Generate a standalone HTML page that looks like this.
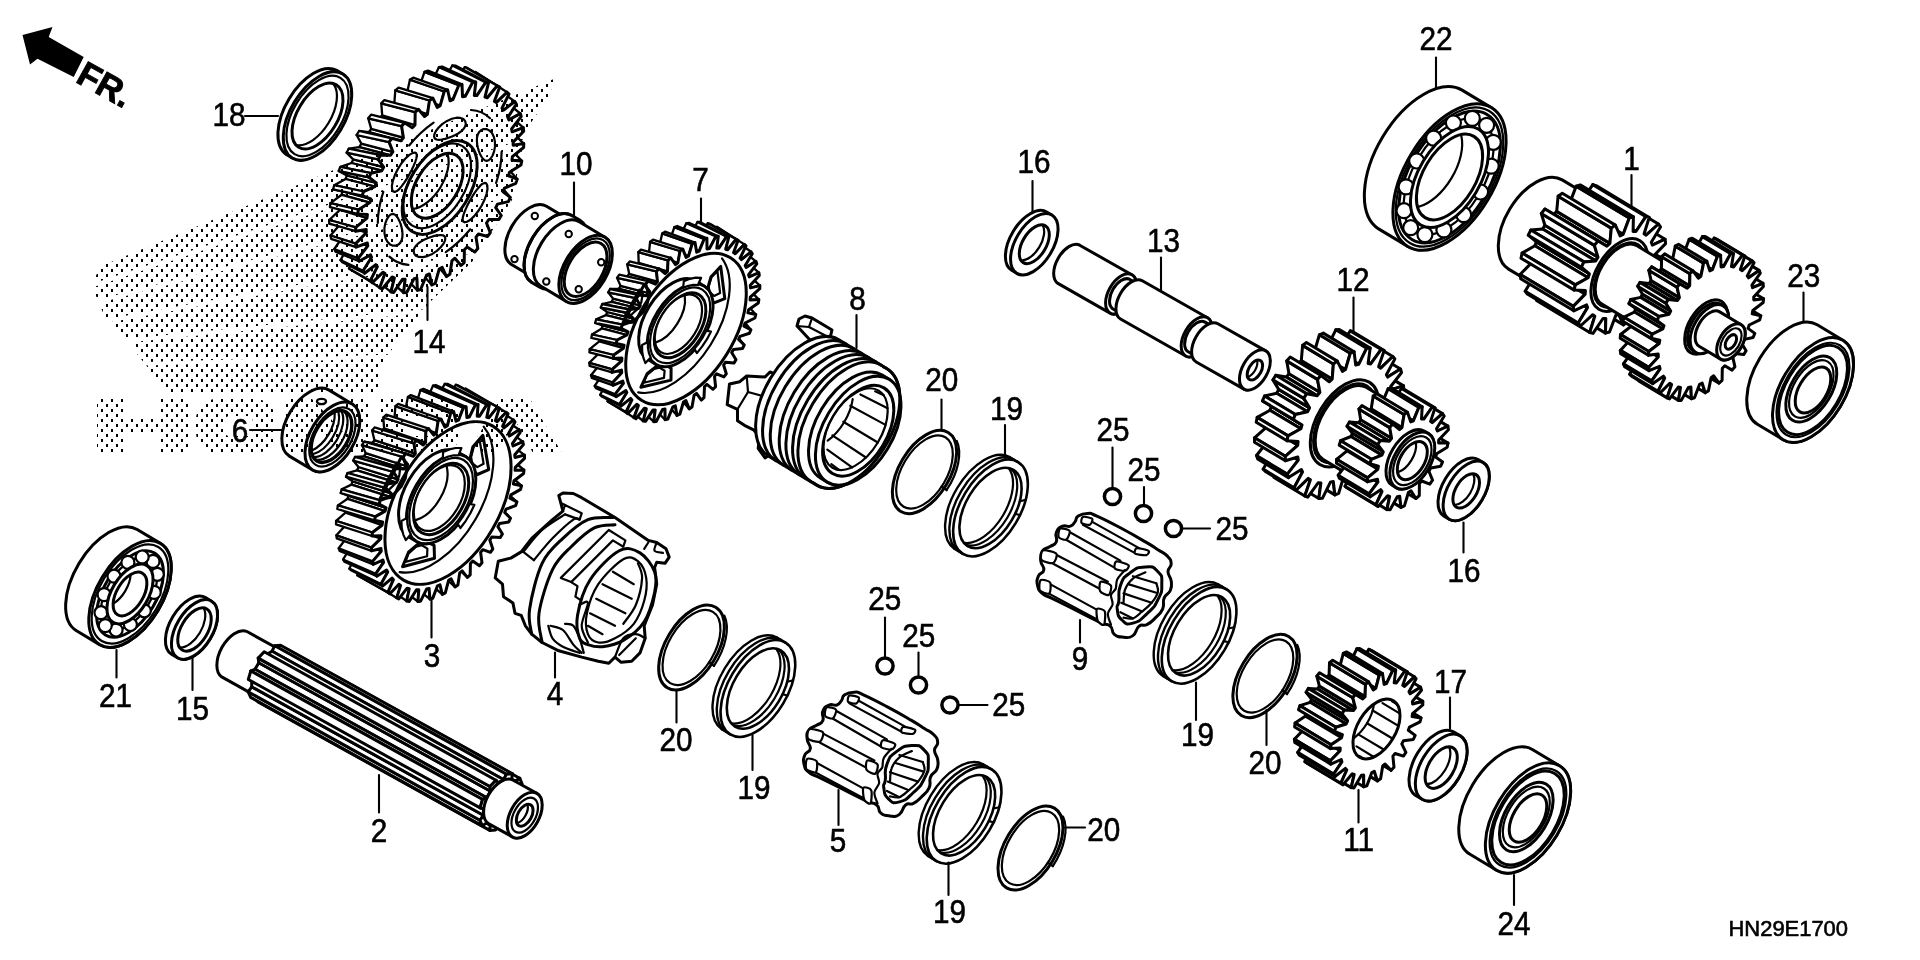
<!DOCTYPE html>
<html><head><meta charset="utf-8"><title>HN29E1700</title>
<style>
html,body{margin:0;padding:0;background:#fff;}
body{width:1920px;height:960px;overflow:hidden;font-family:"Liberation Sans",sans-serif;}
svg{display:block;will-change:transform;opacity:0.9999}
svg path, svg ellipse, svg circle, svg polygon{stroke:#000;stroke-linejoin:round;stroke-linecap:round}
svg text{font-family:"Liberation Sans",sans-serif;fill:#000;stroke:#000;stroke-width:0.6px}
.ns, .ns *{stroke:none!important}
</style></head><body>
<svg width="1920" height="960" viewBox="0 0 1920 960" fill="none">
<defs>
<pattern id="dots" width="10" height="10" patternUnits="userSpaceOnUse" patternTransform="translate(1,-1)">
<rect x="0" y="0" width="2" height="3" fill="#000" shape-rendering="crispEdges"/><rect x="5" y="5" width="2" height="3" fill="#000" shape-rendering="crispEdges"/>
</pattern>
</defs>
<rect class="ns" width="1920" height="960" fill="#fff"/>
<text transform="translate(229,126.2) scale(0.9,1)" font-size="33" text-anchor="middle">18</text>
<text transform="translate(576,175.2) scale(0.9,1)" font-size="33" text-anchor="middle">10</text>
<text transform="translate(429,352.7) scale(0.9,1)" font-size="33" text-anchor="middle">14</text>
<text transform="translate(240,442.2) scale(0.9,1)" font-size="33" text-anchor="middle">6</text>
<text transform="translate(700.5,191.2) scale(0.9,1)" font-size="33" text-anchor="middle">7</text>
<text transform="translate(857.5,310.2) scale(0.9,1)" font-size="33" text-anchor="middle">8</text>
<text transform="translate(1034,172.7) scale(0.9,1)" font-size="33" text-anchor="middle">16</text>
<text transform="translate(1163.5,252.2) scale(0.9,1)" font-size="33" text-anchor="middle">13</text>
<text transform="translate(941.7,391.2) scale(0.9,1)" font-size="33" text-anchor="middle">20</text>
<text transform="translate(1006.5,419.7) scale(0.9,1)" font-size="33" text-anchor="middle">19</text>
<text transform="translate(1113,441.2) scale(0.9,1)" font-size="33" text-anchor="middle">25</text>
<text transform="translate(1144,481.2) scale(0.9,1)" font-size="33" text-anchor="middle">25</text>
<text transform="translate(1436,50.2) scale(0.9,1)" font-size="33" text-anchor="middle">22</text>
<text transform="translate(1631.5,169.7) scale(0.9,1)" font-size="33" text-anchor="middle">1</text>
<text transform="translate(1803.7,286.7) scale(0.9,1)" font-size="33" text-anchor="middle">23</text>
<text transform="translate(1353,291.2) scale(0.9,1)" font-size="33" text-anchor="middle">12</text>
<text transform="translate(115.5,707.2) scale(0.9,1)" font-size="33" text-anchor="middle">21</text>
<text transform="translate(192.5,720.2) scale(0.9,1)" font-size="33" text-anchor="middle">15</text>
<text transform="translate(432,667.2) scale(0.9,1)" font-size="33" text-anchor="middle">3</text>
<text transform="translate(555,704.7) scale(0.9,1)" font-size="33" text-anchor="middle">4</text>
<text transform="translate(379,842.2) scale(0.9,1)" font-size="33" text-anchor="middle">2</text>
<text transform="translate(884.7,609.7) scale(0.9,1)" font-size="33" text-anchor="middle">25</text>
<text transform="translate(918.7,647.2) scale(0.9,1)" font-size="33" text-anchor="middle">25</text>
<text transform="translate(1008.7,716.2) scale(0.9,1)" font-size="33" text-anchor="middle">25</text>
<text transform="translate(1232,539.7) scale(0.9,1)" font-size="33" text-anchor="middle">25</text>
<text transform="translate(676,751.2) scale(0.9,1)" font-size="33" text-anchor="middle">20</text>
<text transform="translate(754,798.7) scale(0.9,1)" font-size="33" text-anchor="middle">19</text>
<text transform="translate(838,852.2) scale(0.9,1)" font-size="33" text-anchor="middle">5</text>
<text transform="translate(949.5,922.7) scale(0.9,1)" font-size="33" text-anchor="middle">19</text>
<text transform="translate(1103.7,841.2) scale(0.9,1)" font-size="33" text-anchor="middle">20</text>
<text transform="translate(1080,670.2) scale(0.9,1)" font-size="33" text-anchor="middle">9</text>
<text transform="translate(1197.5,746.2) scale(0.9,1)" font-size="33" text-anchor="middle">19</text>
<text transform="translate(1265,773.7) scale(0.9,1)" font-size="33" text-anchor="middle">20</text>
<text transform="translate(1464,582.2) scale(0.9,1)" font-size="33" text-anchor="middle">16</text>
<text transform="translate(1450.5,692.7) scale(0.9,1)" font-size="33" text-anchor="middle">17</text>
<text transform="translate(1358.7,851.2) scale(0.9,1)" font-size="33" text-anchor="middle">11</text>
<text transform="translate(1514,934.7) scale(0.9,1)" font-size="33" text-anchor="middle">24</text>
<text transform="translate(1728.5,935.8) scale(0.975,1)" font-size="22.5" text-anchor="start">HN29E1700</text>
<path d="M245 116H278" stroke-width="2.1"/>
<path d="M574 182.5V218" stroke-width="2.1"/>
<path d="M427.5 287V320" stroke-width="2.1"/>
<path d="M250 430H283" stroke-width="2.1"/>
<path d="M701 198.5V223" stroke-width="2.1"/>
<path d="M856.5 315V348" stroke-width="2.1"/>
<path d="M1032.5 181V213" stroke-width="2.1"/>
<path d="M1161 257.5V293" stroke-width="2.1"/>
<path d="M941.5 399.5V430" stroke-width="2.1"/>
<path d="M1005 425V458" stroke-width="2.1"/>
<path d="M1112.5 447.5V489" stroke-width="2.1"/>
<path d="M1144 487V506" stroke-width="2.1"/>
<path d="M1181 528.5H1210" stroke-width="2.1"/>
<path d="M1436 57.5V88" stroke-width="2.1"/>
<path d="M1631.5 175V208" stroke-width="2.1"/>
<path d="M1803.5 292.5V325" stroke-width="2.1"/>
<path d="M1353.5 297.5V333" stroke-width="2.1"/>
<path d="M116.5 650V677.5" stroke-width="2.1"/>
<path d="M192.5 655V690" stroke-width="2.1"/>
<path d="M431.5 600V637.5" stroke-width="2.1"/>
<path d="M555 652.5V677.5" stroke-width="2.1"/>
<path d="M379 775V812.5" stroke-width="2.1"/>
<path d="M676.5 690V722.5" stroke-width="2.1"/>
<path d="M752.5 735V770" stroke-width="2.1"/>
<path d="M838.5 790V825" stroke-width="2.1"/>
<path d="M948.5 862.5V895" stroke-width="2.1"/>
<path d="M1065 827.5H1085" stroke-width="2.1"/>
<path d="M1080 620V642.5" stroke-width="2.1"/>
<path d="M1196 682.5V720" stroke-width="2.1"/>
<path d="M1266.5 710V745" stroke-width="2.1"/>
<path d="M885 617.5V658" stroke-width="2.1"/>
<path d="M918.5 652.5V677" stroke-width="2.1"/>
<path d="M958 705H987.5" stroke-width="2.1"/>
<path d="M1463.5 522.5V552.5" stroke-width="2.1"/>
<path d="M1450 697.5V728.5" stroke-width="2.1"/>
<path d="M1358.5 790V822.5" stroke-width="2.1"/>
<path d="M1514 875V905" stroke-width="2.1"/>
<circle cx="1112.5" cy="496.5" r="8.1" fill="#fff" stroke-width="3.5"/>
<circle cx="1143.5" cy="513.5" r="8.1" fill="#fff" stroke-width="3.5"/>
<circle cx="1173.5" cy="528.5" r="8.1" fill="#fff" stroke-width="3.5"/>
<circle cx="885" cy="666" r="8.1" fill="#fff" stroke-width="3.5"/>
<circle cx="918.5" cy="685" r="8.1" fill="#fff" stroke-width="3.5"/>
<circle cx="950" cy="705" r="8.1" fill="#fff" stroke-width="3.5"/>
<polygon class="ns" points="22.5,35 52.5,27 48.7,37 83.7,57 73.7,77 37.5,58.7 30,64.5" fill="#000"/>
<text transform="translate(74.5,81.5) rotate(29)" font-size="35" font-weight="bold" style="stroke:#000;stroke-width:0.9px">FR.</text>
<path d="M336.7,70.4A27 49 31 0 0 286.3,154.4L292.3,158A27 49 31 0 0 342.7,74Z" fill="#fff" stroke-width="3"/>
<ellipse cx="317.5" cy="116" rx="27" ry="49" transform="rotate(31 317.5 116)" fill="#fff" stroke-width="3"/>
<ellipse cx="317.5" cy="116" rx="24.5" ry="44.5" transform="rotate(31 317.5 116)" fill="#fff" stroke-width="2.2"/>
<ellipse cx="317.5" cy="116" rx="20.1" ry="36.5" transform="rotate(31 317.5 116)" fill="#fff" stroke-width="3"/>
<path d="M333.5,84A20.1 36.5 31 0 1 296.7,145.1" fill="none" stroke-width="2.2"/>
<path d="M1046.7,212A18.7 34 31 0 0 1011.6,270.3L1016.8,273.3A18.7 34 31 0 0 1051.8,215.1Z" fill="#fff" stroke-width="3"/>
<ellipse cx="1034.3" cy="244.2" rx="18.7" ry="34" transform="rotate(31 1034.3 244.2)" fill="#fff" stroke-width="3"/>
<ellipse cx="1034.3" cy="244.2" rx="11.8" ry="21.5" transform="rotate(31 1034.3 244.2)" fill="#fff" stroke-width="3"/>
<path d="M1042.7,225.2A11.8 21.5 31 0 1 1021.5,260.5" fill="none" stroke-width="2.2"/>
<path d="M1478.1,459.5A18.2 33 31 0 0 1444.1,516.1L1449.2,519.2A18.2 33 31 0 0 1483.2,462.6Z" fill="#fff" stroke-width="3"/>
<ellipse cx="1466.2" cy="490.9" rx="18.2" ry="33" transform="rotate(31 1466.2 490.9)" fill="#fff" stroke-width="3"/>
<ellipse cx="1466.2" cy="490.9" rx="10.5" ry="19" transform="rotate(31 1466.2 490.9)" fill="#fff" stroke-width="3"/>
<path d="M1473.2,474.1A10.5 19 31 0 1 1454.7,505" fill="none" stroke-width="2.2"/>
<path d="M1453.4,731.8A20.4 37 31 0 0 1415.3,795.2L1422.1,799.3A20.4 37 31 0 0 1460.3,735.9Z" fill="#fff" stroke-width="3"/>
<ellipse cx="1441.2" cy="767.6" rx="20.4" ry="37" transform="rotate(31 1441.2 767.6)" fill="#fff" stroke-width="3"/>
<ellipse cx="1441.2" cy="767.6" rx="12.7" ry="23" transform="rotate(31 1441.2 767.6)" fill="#fff" stroke-width="3"/>
<path d="M1449.2,747.3A12.7 23 31 0 1 1427,784.2" fill="none" stroke-width="2.2"/>
<path d="M205.5,597.6A18.2 33 31 0 0 171.5,654.2L177.5,657.8A18.2 33 31 0 0 211.5,601.2Z" fill="#fff" stroke-width="3"/>
<ellipse cx="194.5" cy="629.5" rx="18.2" ry="33" transform="rotate(31 194.5 629.5)" fill="#fff" stroke-width="3"/>
<ellipse cx="194.5" cy="629.5" rx="13.2" ry="24" transform="rotate(31 194.5 629.5)" fill="#fff" stroke-width="3"/>
<path d="M203.7,608.3A13.2 24 31 0 1 180.1,647.6" fill="none" stroke-width="2.2"/>
<path d="M137.2,529.5A32.5 59 31 0 0 76.5,630.7L99.6,644.6A32.5 59 31 0 0 160.4,543.4Z" fill="#fff" stroke-width="3"/>
<ellipse cx="130" cy="594" rx="32.5" ry="59" transform="rotate(31 130 594)" fill="#fff" stroke-width="3"/>
<ellipse cx="130" cy="594" rx="30.2" ry="54.9" transform="rotate(31 130 594)" fill="#fff" stroke-width="2.2"/>
<ellipse cx="130" cy="594" rx="26.3" ry="47.8" transform="rotate(31 130 594)" fill="#fff" stroke-width="3"/>
<ellipse cx="129.1" cy="593.5" rx="22.2" ry="40.4" transform="rotate(31 129.1 593.5)" fill="#fff" stroke-width="2.2"/>
<circle cx="153" cy="561.4" r="6.5" fill="#fff" stroke-width="2.2"/>
<circle cx="157.3" cy="574.3" r="6.5" fill="#fff" stroke-width="2.2"/>
<circle cx="154.2" cy="592.4" r="6.5" fill="#fff" stroke-width="2.2"/>
<circle cx="144.3" cy="610.8" r="6.5" fill="#fff" stroke-width="2.2"/>
<circle cx="130.4" cy="624.5" r="6.5" fill="#fff" stroke-width="2.2"/>
<circle cx="116.1" cy="630" r="6.5" fill="#fff" stroke-width="2.2"/>
<circle cx="105.3" cy="625.6" r="6.5" fill="#fff" stroke-width="2.2"/>
<circle cx="101" cy="612.7" r="6.5" fill="#fff" stroke-width="2.2"/>
<circle cx="104.1" cy="594.6" r="6.5" fill="#fff" stroke-width="2.2"/>
<circle cx="114" cy="576.2" r="6.5" fill="#fff" stroke-width="2.2"/>
<circle cx="127.9" cy="562.4" r="6.5" fill="#fff" stroke-width="2.2"/>
<circle cx="142.2" cy="557" r="6.5" fill="#fff" stroke-width="2.2"/>
<ellipse cx="130" cy="594" rx="18.2" ry="33" transform="rotate(31 130 594)" fill="#fff" stroke-width="3"/>
<ellipse cx="130" cy="594" rx="13.3" ry="24.2" transform="rotate(31 130 594)" fill="#fff" stroke-width="3"/>
<path d="M130.6,575.2A13.3 24.2 31 0 1 113.7,603.4" fill="none" stroke-width="2.2"/>
<path d="M1462.1,90.1A44.6 81 31 0 0 1378.6,228.9L1407.8,246.4A44.6 81 31 0 0 1491.2,107.6Z" fill="#fff" stroke-width="3"/>
<ellipse cx="1449.5" cy="177" rx="44.6" ry="81" transform="rotate(31 1449.5 177)" fill="#fff" stroke-width="3"/>
<ellipse cx="1449.5" cy="177" rx="42.3" ry="77" transform="rotate(31 1449.5 177)" fill="#fff" stroke-width="2.2"/>
<ellipse cx="1449.5" cy="177" rx="40.1" ry="72.9" transform="rotate(31 1449.5 177)" fill="#fff" stroke-width="3"/>
<ellipse cx="1448.6" cy="176.5" rx="35.4" ry="64.4" transform="rotate(31 1448.6 176.5)" fill="#fff" stroke-width="2.2"/>
<circle cx="1486.6" cy="125.3" r="7.5" fill="#fff" stroke-width="2.2"/>
<circle cx="1493.3" cy="142.3" r="7.5" fill="#fff" stroke-width="2.2"/>
<circle cx="1491.2" cy="166.1" r="7.5" fill="#fff" stroke-width="2.2"/>
<circle cx="1480.6" cy="192" r="7.5" fill="#fff" stroke-width="2.2"/>
<circle cx="1463.7" cy="214.7" r="7.5" fill="#fff" stroke-width="2.2"/>
<circle cx="1443.9" cy="229.9" r="7.5" fill="#fff" stroke-width="2.2"/>
<circle cx="1424.9" cy="234.6" r="7.5" fill="#fff" stroke-width="2.2"/>
<circle cx="1410.7" cy="227.7" r="7.5" fill="#fff" stroke-width="2.2"/>
<circle cx="1404" cy="210.7" r="7.5" fill="#fff" stroke-width="2.2"/>
<circle cx="1406.1" cy="186.9" r="7.5" fill="#fff" stroke-width="2.2"/>
<circle cx="1416.7" cy="161" r="7.5" fill="#fff" stroke-width="2.2"/>
<circle cx="1433.6" cy="138.2" r="7.5" fill="#fff" stroke-width="2.2"/>
<circle cx="1453.4" cy="123" r="7.5" fill="#fff" stroke-width="2.2"/>
<circle cx="1472.3" cy="118.4" r="7.5" fill="#fff" stroke-width="2.2"/>
<ellipse cx="1449.5" cy="177" rx="30.7" ry="55.9" transform="rotate(31 1449.5 177)" fill="#fff" stroke-width="3"/>
<ellipse cx="1449.5" cy="177" rx="26.1" ry="47.4" transform="rotate(31 1449.5 177)" fill="#fff" stroke-width="3"/>
<path d="M1461.3,135.8A26.1 47.4 31 0 1 1418.7,206.8" fill="none" stroke-width="2.2"/>
<path d="M1532.8,749.7A33.6 61 31 0 0 1470,854.3L1496.6,870.3A33.6 61 31 0 0 1559.4,765.7Z" fill="#fff" stroke-width="3"/>
<ellipse cx="1528" cy="818" rx="33.6" ry="61" transform="rotate(31 1528 818)" fill="#fff" stroke-width="3"/>
<ellipse cx="1528" cy="818" rx="30.2" ry="54.9" transform="rotate(31 1528 818)" fill="#fff" stroke-width="2.2"/>
<ellipse cx="1528" cy="818" rx="28.5" ry="51.9" transform="rotate(31 1528 818)" fill="#fff" stroke-width="3"/>
<ellipse cx="1526.3" cy="817" rx="21.1" ry="38.4" transform="rotate(31 1526.3 817)" fill="#fff" stroke-width="3"/>
<ellipse cx="1526.3" cy="817" rx="18.5" ry="33.6" transform="rotate(31 1526.3 817)" fill="#fff" stroke-width="2.2"/>
<ellipse cx="1528" cy="818" rx="14.8" ry="26.8" transform="rotate(31 1528 818)" fill="#fff" stroke-width="3"/>
<path d="M1817.2,324.8A31.9 58 31 0 0 1757.4,424.3L1783.1,439.7A31.9 58 31 0 0 1842.9,340.3Z" fill="#fff" stroke-width="3"/>
<ellipse cx="1813" cy="390" rx="31.9" ry="58" transform="rotate(31 1813 390)" fill="#fff" stroke-width="3"/>
<ellipse cx="1813" cy="390" rx="28.7" ry="52.2" transform="rotate(31 1813 390)" fill="#fff" stroke-width="2.2"/>
<ellipse cx="1813" cy="390" rx="27.1" ry="49.3" transform="rotate(31 1813 390)" fill="#fff" stroke-width="3"/>
<ellipse cx="1811.3" cy="389" rx="20.1" ry="36.5" transform="rotate(31 1811.3 389)" fill="#fff" stroke-width="3"/>
<ellipse cx="1811.3" cy="389" rx="17.5" ry="31.9" transform="rotate(31 1811.3 389)" fill="#fff" stroke-width="2.2"/>
<ellipse cx="1813" cy="390" rx="14" ry="25.5" transform="rotate(31 1813 390)" fill="#fff" stroke-width="3"/>
<ellipse cx="924.5" cy="472" rx="25.3" ry="46" transform="rotate(31 924.5 472)" fill="none" stroke-width="3"/>
<ellipse cx="924.5" cy="472" rx="22.3" ry="40.5" transform="rotate(31 924.5 472)" fill="none" stroke-width="2.2"/>
<path d="M956.8,441A25.3 46 31 0 1 946.6,490" fill="none" stroke-width="2.2"/>
<path d="M946.6,490 941.7,486.5" stroke-width="2.2"/>
<ellipse cx="691.5" cy="647.5" rx="25.9" ry="47" transform="rotate(31 691.5 647.5)" fill="none" stroke-width="3"/>
<ellipse cx="691.5" cy="647.5" rx="22.8" ry="41.5" transform="rotate(31 691.5 647.5)" fill="none" stroke-width="2.2"/>
<path d="M724.4,615.7A25.9 47 31 0 1 714,665.8" fill="none" stroke-width="2.2"/>
<path d="M714,665.8 709.1,662.3" stroke-width="2.2"/>
<ellipse cx="1030.5" cy="848" rx="25.6" ry="46.5" transform="rotate(31 1030.5 848)" fill="none" stroke-width="3"/>
<ellipse cx="1030.5" cy="848" rx="22.6" ry="41" transform="rotate(31 1030.5 848)" fill="none" stroke-width="2.2"/>
<path d="M1063.1,816.6A25.6 46.5 31 0 1 1052.8,866.1" fill="none" stroke-width="2.2"/>
<path d="M1052.8,866.1 1047.9,862.6" stroke-width="2.2"/>
<ellipse cx="1265" cy="676" rx="25.3" ry="46" transform="rotate(31 1265 676)" fill="none" stroke-width="3"/>
<ellipse cx="1265" cy="676" rx="22.3" ry="40.5" transform="rotate(31 1265 676)" fill="none" stroke-width="2.2"/>
<path d="M1297.3,645A25.3 46 31 0 1 1287.1,694" fill="none" stroke-width="2.2"/>
<path d="M1287.1,694 1282.2,690.5" stroke-width="2.2"/>
<path d="M954.4,548.7A29.4 53.5 31 0 1 1009.5,457" fill="none" stroke-width="2.4"/>
<path d="M958.7,551.3A29.4 53.5 31 0 1 1013.8,459.6" fill="none" stroke-width="2.4"/>
<path d="M954.4,548.7 962.9,553.9" stroke-width="2.4"/>
<path d="M1009.5,457 1018.1,462.1" stroke-width="2.4"/>
<ellipse cx="990.5" cy="508" rx="29.4" ry="53.5" transform="rotate(31 990.5 508)" fill="none" stroke-width="2.6"/>
<ellipse cx="990.5" cy="508" rx="24.5" ry="44.5" transform="rotate(31 990.5 508)" fill="none" stroke-width="2.6"/>
<path d="M1009.2,468.8A24.5 44.5 31 0 1 964.7,542.9" fill="none" stroke-width="2.2"/>
<path d="M1011.8,469.4A24.5 44.5 31 0 1 966.4,544.9" fill="none" stroke-width="2.2"/>
<path d="M1025.7,499.9 1019.8,501.2" stroke-width="2.2"/>
<path d="M1020.1,515 1015.1,513.8" stroke-width="2.2"/>
<path d="M721.8,729.2A29.4 53.5 31 0 1 776.9,637.5" fill="none" stroke-width="2.4"/>
<path d="M726.1,731.8A29.4 53.5 31 0 1 781.2,640.1" fill="none" stroke-width="2.4"/>
<path d="M721.8,729.2 730.3,734.4" stroke-width="2.4"/>
<path d="M776.9,637.5 785.5,642.6" stroke-width="2.4"/>
<ellipse cx="757.9" cy="688.5" rx="29.4" ry="53.5" transform="rotate(31 757.9 688.5)" fill="none" stroke-width="2.6"/>
<ellipse cx="757.9" cy="688.5" rx="24.5" ry="44.5" transform="rotate(31 757.9 688.5)" fill="none" stroke-width="2.6"/>
<path d="M776.6,649.3A24.5 44.5 31 0 1 732.1,723.4" fill="none" stroke-width="2.2"/>
<path d="M779.2,649.9A24.5 44.5 31 0 1 733.8,725.4" fill="none" stroke-width="2.2"/>
<path d="M793.1,680.4 787.2,681.7" stroke-width="2.2"/>
<path d="M787.5,695.5 782.5,694.3" stroke-width="2.2"/>
<path d="M928,856A29.4 53.5 31 0 1 983.1,764.3" fill="none" stroke-width="2.4"/>
<path d="M932.3,858.6A29.4 53.5 31 0 1 987.4,766.9" fill="none" stroke-width="2.4"/>
<path d="M928,856 936.5,861.2" stroke-width="2.4"/>
<path d="M983.1,764.3 991.7,769.4" stroke-width="2.4"/>
<ellipse cx="964.1" cy="815.3" rx="29.4" ry="53.5" transform="rotate(31 964.1 815.3)" fill="none" stroke-width="2.6"/>
<ellipse cx="964.1" cy="815.3" rx="24.5" ry="44.5" transform="rotate(31 964.1 815.3)" fill="none" stroke-width="2.6"/>
<path d="M982.8,776.1A24.5 44.5 31 0 1 938.3,850.2" fill="none" stroke-width="2.2"/>
<path d="M985.4,776.7A24.5 44.5 31 0 1 940,852.2" fill="none" stroke-width="2.2"/>
<path d="M999.3,807.2 993.4,808.5" stroke-width="2.2"/>
<path d="M993.7,822.3 988.7,821.1" stroke-width="2.2"/>
<path d="M1163,676A29.4 53.5 31 0 1 1218.1,584.3" fill="none" stroke-width="2.4"/>
<path d="M1167.3,678.6A29.4 53.5 31 0 1 1222.4,586.9" fill="none" stroke-width="2.4"/>
<path d="M1163,676 1171.5,681.2" stroke-width="2.4"/>
<path d="M1218.1,584.3 1226.7,589.4" stroke-width="2.4"/>
<ellipse cx="1199.1" cy="635.3" rx="29.4" ry="53.5" transform="rotate(31 1199.1 635.3)" fill="none" stroke-width="2.6"/>
<ellipse cx="1199.1" cy="635.3" rx="24.5" ry="44.5" transform="rotate(31 1199.1 635.3)" fill="none" stroke-width="2.6"/>
<path d="M1217.8,596.1A24.5 44.5 31 0 1 1173.3,670.2" fill="none" stroke-width="2.2"/>
<path d="M1220.4,596.7A24.5 44.5 31 0 1 1175,672.2" fill="none" stroke-width="2.2"/>
<path d="M1234.3,627.2 1228.4,628.5" stroke-width="2.2"/>
<path d="M1228.7,642.3 1223.7,641.1" stroke-width="2.2"/>
<path d="M495.7,207.7 501.2,215.5 480.2,189.2 473.7,182.6Z" fill="#fff" stroke-width="2.3"/>
<path d="M503.1,191.8 510.3,197.4 488.1,170.9 480,166.6Z" fill="#fff" stroke-width="2.3"/>
<path d="M508.6,175.8 517.2,179.1 493.7,152.6 484.4,150.7Z" fill="#fff" stroke-width="2.3"/>
<path d="M446.5,276.6 442.2,267.4 422.9,246.2 428.2,254.4Z" fill="#fff" stroke-width="2.3"/>
<path d="M512,160.2 521.8,160.9 496.9,134.8 486.6,135.4Z" fill="#fff" stroke-width="2.3"/>
<path d="M431.8,285 429.4,274 410.1,254.3 413.6,264.3Z" fill="#fff" stroke-width="2.3"/>
<path d="M513.2,145.3 523.8,143.6 497.6,118.2 486.6,121.3Z" fill="#fff" stroke-width="2.3"/>
<path d="M417.4,290.4 416.9,278 397.4,259.7 399,271.4Z" fill="#fff" stroke-width="2.3"/>
<path d="M512.1,131.8 523.3,127.6 495.7,103.2 484.3,108.6Z" fill="#fff" stroke-width="2.3"/>
<path d="M403.6,292.8 405.1,279.3 385.2,262.5 384.8,275.4Z" fill="#fff" stroke-width="2.3"/>
<path d="M508.9,119.9 520.3,113.5 491.3,90.2 479.9,97.8Z" fill="#fff" stroke-width="2.3"/>
<path d="M390.9,291.9 394.4,277.8 373.9,262.5 371.4,276.3Z" fill="#fff" stroke-width="2.3"/>
<path d="M503.6,110.1 514.8,101.5 484.5,79.6 473.5,89.3Z" fill="#fff" stroke-width="2.3"/>
<path d="M379.7,287.8 385,273.5 363.7,259.8 359.4,274Z" fill="#fff" stroke-width="2.3"/>
<path d="M496.3,102.6 507.1,92.2 475.6,71.9 465.2,83.2Z" fill="#fff" stroke-width="2.3"/>
<path d="M494.4,101.3 496.3,102.6 465.2,83.2 463.1,82.2Z" fill="#fff" stroke-width="2.3"/>
<path d="M372.3,282.6 370.4,280.7 349,268.5 351.2,270.1Z" fill="#fff" stroke-width="2.3"/>
<path d="M497.2,85.8 499.7,87 467.4,67.9 464.8,67.1Z" fill="#fff" stroke-width="2.3"/>
<path d="M370.4,280.7 377.4,266.6 355.1,254.3 349,268.5Z" fill="#fff" stroke-width="2.3"/>
<path d="M487.3,97.8 497.2,85.8 464.8,67.1 455.4,79.8Z" fill="#fff" stroke-width="2.3"/>
<path d="M377.4,266.6 375.8,264.7 353.3,252.7 355.1,254.3Z" fill="#fff" stroke-width="2.3"/>
<path d="M485,97 487.3,97.8 455.4,79.8 453,79.4Z" fill="#fff" stroke-width="2.3"/>
<path d="M364.6,273.3 363.1,270.7 340.5,260.1 342.3,262.3Z" fill="#fff" stroke-width="2.3"/>
<path d="M363.1,270.7 371.6,257.3 348.2,246.3 340.5,260.1Z" fill="#fff" stroke-width="2.3"/>
<path d="M485.7,82.4 488.5,82.9 455.4,65.6 452.4,65.5Z" fill="#fff" stroke-width="2.3"/>
<path d="M371.6,257.3 370.5,254.9 346.9,244.1 348.2,246.3Z" fill="#fff" stroke-width="2.3"/>
<path d="M476.8,95.6 485.7,82.4 452.4,65.5 444.3,79.2Z" fill="#fff" stroke-width="2.3"/>
<path d="M474.3,95.5 476.8,95.6 444.3,79.2 441.6,79.4Z" fill="#fff" stroke-width="2.3"/>
<path d="M359.1,261.3 358.2,258.3 334.3,249 335.5,251.8Z" fill="#fff" stroke-width="2.3"/>
<path d="M358.2,258.3 367.8,245.9 343.3,236 334.3,249Z" fill="#fff" stroke-width="2.3"/>
<path d="M367.8,245.9 367.3,243 342.5,233.3 343.3,236Z" fill="#fff" stroke-width="2.3"/>
<path d="M472.7,82.3 475.8,82 442.1,66.5 438.9,67.2Z" fill="#fff" stroke-width="2.3"/>
<path d="M465.3,96.2 472.7,82.3 438.9,67.2 432.3,81.3Z" fill="#fff" stroke-width="2.3"/>
<path d="M462.5,96.8 465.3,96.2 432.3,81.3 429.4,82.2Z" fill="#fff" stroke-width="2.3"/>
<path d="M366.3,232.7 366.2,229.5 340.2,220.7 340.6,223.7Z" fill="#fff" stroke-width="2.3"/>
<path d="M355.7,243.6 366.3,232.7 340.6,223.7 330.5,235.5Z" fill="#fff" stroke-width="2.3"/>
<path d="M356.1,247.2 355.7,243.6 330.5,235.5 331.1,238.8Z" fill="#fff" stroke-width="2.3"/>
<path d="M450,100.8 452.9,99.6 419.7,86.2 416.7,87.7Z" fill="#fff" stroke-width="2.3"/>
<path d="M452.9,99.6 458.8,85.3 424.5,71.9 419.7,86.2Z" fill="#fff" stroke-width="2.3"/>
<path d="M458.8,85.3 462,84.4 427.9,70.6 424.5,71.9Z" fill="#fff" stroke-width="2.3"/>
<path d="M367,218.1 367.4,214.6 340.2,206.5 340,209.9Z" fill="#fff" stroke-width="2.3"/>
<path d="M437.2,107.4 440.2,105.7 406.9,93.7 403.9,95.7Z" fill="#fff" stroke-width="2.3"/>
<path d="M355.8,227.3 367,218.1 340,209.9 329.2,220Z" fill="#fff" stroke-width="2.3"/>
<path d="M355.6,231.2 355.8,227.3 329.2,220 329.2,223.7Z" fill="#fff" stroke-width="2.3"/>
<path d="M440.2,105.7 444.2,91.5 409.9,79.7 406.9,93.7Z" fill="#fff" stroke-width="2.3"/>
<path d="M444.2,91.5 447.6,89.8 413.2,77.7 409.9,79.7Z" fill="#fff" stroke-width="2.3"/>
<path d="M369.9,202.6 370.8,199 342.4,191.2 341.7,194.8Z" fill="#fff" stroke-width="2.3"/>
<path d="M424.5,116.5 427.4,114.2 394.3,103.5 391.4,106Z" fill="#fff" stroke-width="2.3"/>
<path d="M358.5,209.7 369.9,202.6 341.7,194.8 330.4,203.1Z" fill="#fff" stroke-width="2.3"/>
<path d="M427.4,114.2 429.5,100.5 395.3,90.3 394.3,103.5Z" fill="#fff" stroke-width="2.3"/>
<path d="M357.6,213.9 358.5,209.7 330.4,203.1 329.9,207.1Z" fill="#fff" stroke-width="2.3"/>
<path d="M374.9,186.7 376.3,183 346.8,175.4 345.6,179Z" fill="#fff" stroke-width="2.3"/>
<path d="M412.3,127.8 415,125 382.2,115.3 379.6,118.3Z" fill="#fff" stroke-width="2.3"/>
<path d="M370.8,199 362.2,195.7 333.1,189.3 342.4,191.2Z" fill="#fff" stroke-width="2.3"/>
<path d="M429.5,100.5 432.9,98.2 398.6,87.6 395.3,90.3Z" fill="#fff" stroke-width="2.3"/>
<path d="M381.9,170.7 383.7,167.1 353.2,159.4 351.5,163Z" fill="#fff" stroke-width="2.3"/>
<path d="M363.6,191.5 374.9,186.7 345.6,179 334.2,185.2Z" fill="#fff" stroke-width="2.3"/>
<path d="M400.9,140.8 403.4,137.7 371.2,128.9 368.8,132.2Z" fill="#fff" stroke-width="2.3"/>
<path d="M415,125 415.2,112.2 381.3,103.3 382.2,115.3Z" fill="#fff" stroke-width="2.3"/>
<path d="M390.6,155.3 392.9,151.8 361.4,143.7 359.3,147.2Z" fill="#fff" stroke-width="2.3"/>
<path d="M376.3,183 369.1,177.4 338.7,171 346.8,175.4Z" fill="#fff" stroke-width="2.3"/>
<path d="M362.2,195.7 363.6,191.5 334.2,185.2 333.1,189.3Z" fill="#fff" stroke-width="2.3"/>
<path d="M371,173.2 381.9,170.7 351.5,163 340.4,166.8Z" fill="#fff" stroke-width="2.3"/>
<path d="M415.2,112.2 418.4,109.3 384.4,100.1 381.3,103.3Z" fill="#fff" stroke-width="2.3"/>
<path d="M403.4,137.7 401.6,126.2 368.2,118.3 371.2,128.9Z" fill="#fff" stroke-width="2.3"/>
<path d="M383.7,167.1 378.2,159.3 346.6,152.7 353.2,159.4Z" fill="#fff" stroke-width="2.3"/>
<path d="M391.8,138.3 400.9,140.8 368.8,132.2 359.1,131Z" fill="#fff" stroke-width="2.3"/>
<path d="M380.5,155.2 390.6,155.3 359.3,147.2 348.8,148.6Z" fill="#fff" stroke-width="2.3"/>
<path d="M392.9,151.8 389.1,142.1 356.6,135 361.4,143.7Z" fill="#fff" stroke-width="2.3"/>
<path d="M369.1,177.4 371,173.2 340.4,166.8 338.7,171Z" fill="#fff" stroke-width="2.3"/>
<path d="M401.6,126.2 404.6,122.8 371.1,114.7 368.2,118.3Z" fill="#fff" stroke-width="2.3"/>
<path d="M378.2,159.3 380.5,155.2 348.8,148.6 346.6,152.7Z" fill="#fff" stroke-width="2.3"/>
<path d="M389.1,142.1 391.8,138.3 359.1,131 356.6,135Z" fill="#fff" stroke-width="2.3"/>
<path d="M496.3,102.6 507.1,92.2 509,94.1 502,108.2 503.6,110.1 514.8,101.5 516.3,104.1 507.8,117.5 508.9,119.9 520.3,113.5 521.2,116.5 511.6,128.9 512.1,131.8 523.3,127.6 523.7,131.2 513.1,142.1 513.2,145.3 523.8,143.6 523.6,147.5 512.4,156.7 512,160.2 521.8,160.9 520.9,165.1 509.5,172.2 508.6,175.8 517.2,179.1 515.8,183.3 504.5,188.1 503.1,191.8 510.3,197.4 508.4,201.6 497.5,204.1 495.7,207.7 501.2,215.5 498.9,219.6 488.8,219.5 486.5,223 490.3,232.7 487.6,236.5 478.5,234 476,237.1 477.8,248.6 474.8,252 467.1,247 464.4,249.8 464.2,262.6 461,265.5 454.9,258.3 452,260.6 449.9,274.3 446.5,276.6 442.2,267.4 439.2,269.1 435.2,283.3 431.8,285 429.4,274 426.5,275.2 420.6,289.5 417.4,290.4 416.9,278 414.1,278.6 406.7,292.5 403.6,292.8 405.1,279.3 402.6,279.2 393.7,292.4 390.9,291.9 394.4,277.8 392.1,277 382.2,289 379.7,287.8 385,273.5 383.1,272.2 372.3,282.6 370.4,280.7 377.4,266.6 375.8,264.7 364.6,273.3 363.1,270.7 371.6,257.3 370.5,254.9 359.1,261.3 358.2,258.3 367.8,245.9 367.3,243 356.1,247.2 355.7,243.6 366.3,232.7 366.2,229.5 355.6,231.2 355.8,227.3 367,218.1 367.4,214.6 357.6,213.9 358.5,209.7 369.9,202.6 370.8,199 362.2,195.7 363.6,191.5 374.9,186.7 376.3,183 369.1,177.4 371,173.2 381.9,170.7 383.7,167.1 378.2,159.3 380.5,155.2 390.6,155.3 392.9,151.8 389.1,142.1 391.8,138.3 400.9,140.8 403.4,137.7 401.6,126.2 404.6,122.8 412.3,127.8 415,125 415.2,112.2 418.4,109.3 424.5,116.5 427.4,114.2 429.5,100.5 432.9,98.2 437.2,107.4 440.2,105.7 444.2,91.5 447.6,89.8 450,100.8 452.9,99.6 458.8,85.3 462,84.4 462.5,96.8 465.3,96.2 472.7,82.3 475.8,82 474.3,95.5 476.8,95.6 485.7,82.4 488.5,82.9 485,97 487.3,97.8 497.2,85.8 499.7,87 494.4,101.3Z" fill="#fff" stroke-width="3"/>
<path d="M451.9,118.7 456.5,117.7 460.5,117.9 463.5,119.1 465.2,121.2 465.8,123.7 465.2,126.3 463.7,128.8 461.4,131.1 458.6,133.2 455.4,135 452,136.5 448.5,137.8 445.1,138.9 441.8,139.5 438.9,139.8 436.5,139.5 434.8,138.5 434.1,136.7 434.4,134.2 435.9,131 438.7,127.5 442.5,123.9 447.1,120.9Z" fill="none" stroke-width="2.2"/>
<path d="M493.9,136.9 494.9,141.6 495,146.6 494.1,151.4 492.6,155.5 490.7,158.5 488.7,160.3 486.6,160.9 484.7,160.3 483,158.8 481.4,156.6 480,153.9 478.8,150.9 477.9,147.7 477.2,144.4 476.9,141 477,137.8 477.7,134.8 479,132.2 481,130.2 483.5,129.1 486.4,129.1 489.4,130.4 492,133Z" fill="none" stroke-width="2.2"/>
<path d="M481.7,205.5 478.1,211.3 474.2,216.1 470.4,219.7 467.1,221.7 464.6,222.3 463.2,221.5 462.6,219.5 463,216.6 464.1,213 465.7,209.1 467.7,204.8 470,200.5 472.5,196.2 475.1,192.2 477.7,188.7 480.2,185.7 482.6,183.7 484.6,182.9 486.3,183.4 487.3,185.4 487.5,189 486.6,193.8 484.6,199.5Z" fill="none" stroke-width="2.2"/>
<path d="M427.5,256.1 422.9,257.1 418.9,256.9 415.9,255.7 414.2,253.6 413.6,251.1 414.2,248.5 415.7,246 418,243.7 420.8,241.6 424,239.8 427.4,238.3 430.9,237 434.3,235.9 437.6,235.3 440.5,235 442.9,235.3 444.6,236.3 445.3,238.1 445,240.6 443.5,243.8 440.7,247.3 436.9,250.9 432.3,253.9Z" fill="none" stroke-width="2.2"/>
<path d="M385.5,237.9 384.5,233.2 384.4,228.2 385.3,223.4 386.8,219.3 388.7,216.3 390.7,214.5 392.8,213.9 394.7,214.5 396.4,216 398,218.2 399.4,220.9 400.6,223.9 401.5,227.1 402.2,230.4 402.5,233.8 402.4,237 401.7,240 400.4,242.6 398.4,244.6 395.9,245.7 393,245.7 390,244.4 387.4,241.8Z" fill="none" stroke-width="2.2"/>
<path d="M397.7,169.3 401.3,163.5 405.2,158.7 409,155.1 412.3,153.1 414.8,152.5 416.2,153.3 416.8,155.3 416.4,158.2 415.3,161.8 413.7,165.7 411.7,170 409.4,174.3 406.9,178.6 404.3,182.6 401.7,186.1 399.2,189.1 396.8,191.1 394.8,191.9 393.1,191.4 392.1,189.4 391.9,185.8 392.8,181 394.8,175.3Z" fill="none" stroke-width="2.2"/>
<path d="M471,110A49.4 86 32 0 1 490,118.2" fill="none" stroke-width="2.2"/>
<path d="M501.6,151.9A49.4 86 32 0 1 496.1,183" fill="none" stroke-width="2.2"/>
<path d="M470.3,229.3A49.4 86 32 0 1 445.8,252.2" fill="none" stroke-width="2.2"/>
<path d="M408.4,264.8A49.4 86 32 0 1 389.4,256.6" fill="none" stroke-width="2.2"/>
<path d="M377.8,222.9A49.4 86 32 0 1 383.3,191.8" fill="none" stroke-width="2.2"/>
<path d="M409.1,145.5A49.4 86 32 0 1 433.6,122.6" fill="none" stroke-width="2.2"/>
<ellipse cx="439.7" cy="187.4" rx="29.9" ry="52" transform="rotate(32 439.7 187.4)" fill="none" stroke-width="3"/>
<ellipse cx="437.2" cy="185.8" rx="27" ry="47" transform="rotate(32 437.2 185.8)" fill="none" stroke-width="2.2"/>
<ellipse cx="437.2" cy="185.8" rx="20.7" ry="36" transform="rotate(32 437.2 185.8)" fill="none" stroke-width="3"/>
<path d="M447.6,154.3A20.7 36 32 0 1 413.4,209" fill="none" stroke-width="2.2"/>
<path d="M738.6,339.4 744.2,345 725.4,321.9 719.1,317.4Z" fill="#fff" stroke-width="2.3"/>
<path d="M744,326.1 750.9,329.8 731.1,306.6 723.6,304Z" fill="#fff" stroke-width="2.3"/>
<path d="M747.9,312.8 755.8,314.5 734.9,291.5 726.5,290.9Z" fill="#fff" stroke-width="2.3"/>
<path d="M689.2,408.9 685.9,400.6 669.2,382.3 673.4,389.7Z" fill="#fff" stroke-width="2.3"/>
<path d="M750.1,299.9 758.9,299.6 736.8,277 727.6,278.5Z" fill="#fff" stroke-width="2.3"/>
<path d="M677,415.5 675.3,405.8 658.5,388.7 661.2,397.7Z" fill="#fff" stroke-width="2.3"/>
<path d="M750.5,287.9 759.9,285.6 736.7,263.6 727,267.1Z" fill="#fff" stroke-width="2.3"/>
<path d="M665.1,419.8 665,409 648,393.1 649,403.3Z" fill="#fff" stroke-width="2.3"/>
<path d="M749.2,276.9 758.9,272.7 734.5,251.6 724.7,256.9Z" fill="#fff" stroke-width="2.3"/>
<path d="M653.7,421.7 655.2,410 637.9,395.4 637.3,406.6Z" fill="#fff" stroke-width="2.3"/>
<path d="M746.1,267.4 755.9,261.3 730.4,241.2 720.7,248.4Z" fill="#fff" stroke-width="2.3"/>
<path d="M643.2,421 646.3,408.8 628.4,395.5 626.3,407.4Z" fill="#fff" stroke-width="2.3"/>
<path d="M741.4,259.6 751,251.8 724.5,232.9 715.1,241.6Z" fill="#fff" stroke-width="2.3"/>
<path d="M633.9,417.7 638.4,405.4 619.9,393.3 616.2,405.6Z" fill="#fff" stroke-width="2.3"/>
<path d="M735.2,253.7 744.4,244.4 716.9,226.8 708.1,236.9Z" fill="#fff" stroke-width="2.3"/>
<path d="M733.6,252.6 735.2,253.7 708.1,236.9 706.3,236.1Z" fill="#fff" stroke-width="2.3"/>
<path d="M627.6,413.6 626,412.1 607.5,401.3 609.3,402.5Z" fill="#fff" stroke-width="2.3"/>
<path d="M626,412.1 631.9,399.9 612.6,389.1 607.5,401.3Z" fill="#fff" stroke-width="2.3"/>
<path d="M736.1,239.3 738.1,240.3 710,223.8 707.8,223.2Z" fill="#fff" stroke-width="2.3"/>
<path d="M631.9,399.9 630.6,398.4 611.1,387.8 612.6,389.1Z" fill="#fff" stroke-width="2.3"/>
<path d="M727.6,249.8 736.1,239.3 707.8,223.2 699.8,234.2Z" fill="#fff" stroke-width="2.3"/>
<path d="M725.7,249.2 727.6,249.8 699.8,234.2 697.8,233.9Z" fill="#fff" stroke-width="2.3"/>
<path d="M621,406.2 619.7,404.2 600.2,394.7 601.7,396.5Z" fill="#fff" stroke-width="2.3"/>
<path d="M619.7,404.2 626.8,392.5 606.7,382.7 600.2,394.7Z" fill="#fff" stroke-width="2.3"/>
<path d="M626.8,392.5 625.9,390.6 605.5,381 606.7,382.7Z" fill="#fff" stroke-width="2.3"/>
<path d="M726.5,236.7 728.8,237 700,222 697.5,222Z" fill="#fff" stroke-width="2.3"/>
<path d="M718.9,248.1 726.5,236.7 697.5,222 690.6,233.8Z" fill="#fff" stroke-width="2.3"/>
<path d="M716.8,248 718.9,248.1 690.6,233.8 688.3,234Z" fill="#fff" stroke-width="2.3"/>
<path d="M616.1,396.7 615.2,394.2 594.7,385.9 595.8,388.1Z" fill="#fff" stroke-width="2.3"/>
<path d="M615.2,394.2 623.4,383.4 602.3,374.6 594.7,385.9Z" fill="#fff" stroke-width="2.3"/>
<path d="M623.4,383.4 622.8,381.1 601.5,372.5 602.3,374.6Z" fill="#fff" stroke-width="2.3"/>
<path d="M715.8,236.5 718.3,236.3 688.9,222.8 686.3,223.3Z" fill="#fff" stroke-width="2.3"/>
<path d="M709.4,248.6 715.8,236.5 686.3,223.3 680.6,235.5Z" fill="#fff" stroke-width="2.3"/>
<path d="M707,249 709.4,248.6 680.6,235.5 678.2,236.3Z" fill="#fff" stroke-width="2.3"/>
<path d="M621.7,372.7 621.5,370.1 599.2,362.3 599.6,364.8Z" fill="#fff" stroke-width="2.3"/>
<path d="M612.7,382.5 621.7,372.7 599.6,364.8 591,375.2Z" fill="#fff" stroke-width="2.3"/>
<path d="M613.1,385.3 612.7,382.5 591,375.2 591.7,377.8Z" fill="#fff" stroke-width="2.3"/>
<path d="M696.7,252.2 699.1,251.2 670.1,239.5 667.7,240.7Z" fill="#fff" stroke-width="2.3"/>
<path d="M699.1,251.2 704.2,238.9 674.4,227.1 670.1,239.5Z" fill="#fff" stroke-width="2.3"/>
<path d="M704.2,238.9 706.9,238.2 677.2,226 674.4,227.1Z" fill="#fff" stroke-width="2.3"/>
<path d="M621.7,360.9 621.9,358.1 598.6,350.9 598.6,353.6Z" fill="#fff" stroke-width="2.3"/>
<path d="M612.2,369.3 621.7,360.9 598.6,353.6 589.3,362.8Z" fill="#fff" stroke-width="2.3"/>
<path d="M612.1,372.4 612.2,369.3 589.3,362.8 589.6,365.8Z" fill="#fff" stroke-width="2.3"/>
<path d="M686.1,257.4 688.5,256 659.5,245.4 657,247.1Z" fill="#fff" stroke-width="2.3"/>
<path d="M688.5,256 692.2,243.8 662.2,233.4 659.5,245.4Z" fill="#fff" stroke-width="2.3"/>
<path d="M692.2,243.8 695,242.5 665,231.7 662.2,233.4Z" fill="#fff" stroke-width="2.3"/>
<path d="M623.4,348.2 624.1,345.2 599.7,338.5 599.3,341.4Z" fill="#fff" stroke-width="2.3"/>
<path d="M613.7,355 623.4,348.2 599.3,341.4 589.7,349.1Z" fill="#fff" stroke-width="2.3"/>
<path d="M675.5,264.6 677.9,262.8 648.9,253.3 646.5,255.4Z" fill="#fff" stroke-width="2.3"/>
<path d="M613.1,358.4 613.7,355 589.7,349.1 589.4,352.4Z" fill="#fff" stroke-width="2.3"/>
<path d="M677.9,262.8 680,251 650.1,241.8 648.9,253.3Z" fill="#fff" stroke-width="2.3"/>
<path d="M626.9,335 628,331.9 602.6,325.4 601.8,328.4Z" fill="#fff" stroke-width="2.3"/>
<path d="M680,251 682.8,249.1 652.9,239.7 650.1,241.8Z" fill="#fff" stroke-width="2.3"/>
<path d="M665.1,273.6 667.5,271.4 638.7,262.8 636.5,265.2Z" fill="#fff" stroke-width="2.3"/>
<path d="M617.1,340 626.9,335 601.8,328.4 592,334.5Z" fill="#fff" stroke-width="2.3"/>
<path d="M632,321.6 633.4,318.6 607.2,312 606,315.1Z" fill="#fff" stroke-width="2.3"/>
<path d="M655.4,284.1 657.5,281.6 629.2,273.8 627.2,276.5Z" fill="#fff" stroke-width="2.3"/>
<path d="M667.5,271.4 668,260.3 638.3,252.2 638.7,262.8Z" fill="#fff" stroke-width="2.3"/>
<path d="M628,331.9 621.1,328.2 595.1,322.8 602.6,325.4Z" fill="#fff" stroke-width="2.3"/>
<path d="M616.2,343.5 617.1,340 592,334.5 591.3,337.9Z" fill="#fff" stroke-width="2.3"/>
<path d="M638.6,308.5 640.3,305.5 613.2,298.7 611.7,301.8Z" fill="#fff" stroke-width="2.3"/>
<path d="M646.4,295.8 648.4,293 620.6,285.9 618.8,288.8Z" fill="#fff" stroke-width="2.3"/>
<path d="M622.5,324.7 632,321.6 606,315.1 596.2,319.3Z" fill="#fff" stroke-width="2.3"/>
<path d="M668,260.3 670.7,257.9 640.9,249.7 638.3,252.2Z" fill="#fff" stroke-width="2.3"/>
<path d="M657.5,281.6 656.4,271.4 627.2,264.4 629.2,273.8Z" fill="#fff" stroke-width="2.3"/>
<path d="M633.4,318.6 627.8,313 600.8,307.5 607.2,312Z" fill="#fff" stroke-width="2.3"/>
<path d="M629.5,309.5 638.6,308.5 611.7,301.8 602.3,304Z" fill="#fff" stroke-width="2.3"/>
<path d="M648.4,293 645.7,284.2 617,277.9 620.6,285.9Z" fill="#fff" stroke-width="2.3"/>
<path d="M640.3,305.5 636,298.2 608.2,292.4 613.2,298.7Z" fill="#fff" stroke-width="2.3"/>
<path d="M621.1,328.2 622.5,324.7 596.2,319.3 595.1,322.8Z" fill="#fff" stroke-width="2.3"/>
<path d="M638.1,294.9 646.4,295.8 618.8,288.8 610.1,289Z" fill="#fff" stroke-width="2.3"/>
<path d="M656.4,271.4 659,268.7 629.7,261.4 627.2,264.4Z" fill="#fff" stroke-width="2.3"/>
<path d="M627.8,313 629.5,309.5 602.3,304 600.8,307.5Z" fill="#fff" stroke-width="2.3"/>
<path d="M645.7,284.2 648.1,281.1 619.3,274.7 617,277.9Z" fill="#fff" stroke-width="2.3"/>
<path d="M636,298.2 638.1,294.9 610.1,289 608.2,292.4Z" fill="#fff" stroke-width="2.3"/>
<path d="M735.2,253.7 744.4,244.4 746,245.9 740.1,258.1 741.4,259.6 751,251.8 752.3,253.8 745.2,265.5 746.1,267.4 755.9,261.3 756.8,263.8 748.6,274.6 749.2,276.9 758.9,272.7 759.3,275.5 750.3,285.3 750.5,287.9 759.9,285.6 759.8,288.7 750.3,297.1 750.1,299.9 758.9,299.6 758.3,303 748.6,309.8 747.9,312.8 755.8,314.5 754.9,318 745.1,323 744,326.1 750.9,329.8 749.5,333.3 740,336.4 738.6,339.4 744.2,345 742.5,348.5 733.4,349.5 731.7,352.5 736,359.8 733.9,363.1 725.6,362.2 723.6,365 726.3,373.8 723.9,376.9 716.6,373.9 714.5,376.4 715.6,386.6 713,389.3 706.9,384.4 704.5,386.6 704,397.7 701.3,400.1 696.5,393.4 694.1,395.2 692,407 689.2,408.9 685.9,400.6 683.5,402 679.8,414.2 677,415.5 675.3,405.8 672.9,406.8 667.8,419.1 665.1,419.8 665,409 662.6,409.4 656.2,421.5 653.7,421.7 655.2,410 653.1,409.9 645.5,421.3 643.2,421 646.3,408.8 644.4,408.2 635.9,418.7 633.9,417.7 638.4,405.4 636.8,404.3 627.6,413.6 626,412.1 631.9,399.9 630.6,398.4 621,406.2 619.7,404.2 626.8,392.5 625.9,390.6 616.1,396.7 615.2,394.2 623.4,383.4 622.8,381.1 613.1,385.3 612.7,382.5 621.7,372.7 621.5,370.1 612.1,372.4 612.2,369.3 621.7,360.9 621.9,358.1 613.1,358.4 613.7,355 623.4,348.2 624.1,345.2 616.2,343.5 617.1,340 626.9,335 628,331.9 621.1,328.2 622.5,324.7 632,321.6 633.4,318.6 627.8,313 629.5,309.5 638.6,308.5 640.3,305.5 636,298.2 638.1,294.9 646.4,295.8 648.4,293 645.7,284.2 648.1,281.1 655.4,284.1 657.5,281.6 656.4,271.4 659,268.7 665.1,273.6 667.5,271.4 668,260.3 670.7,257.9 675.5,264.6 677.9,262.8 680,251 682.8,249.1 686.1,257.4 688.5,256 692.2,243.8 695,242.5 696.7,252.2 699.1,251.2 704.2,238.9 706.9,238.2 707,249 709.4,248.6 715.8,236.5 718.3,236.3 716.8,248 718.9,248.1 726.5,236.7 728.8,237 725.7,249.2 727.6,249.8 736.1,239.3 738.1,240.3 733.6,252.6Z" fill="#fff" stroke-width="3"/>
<ellipse cx="686" cy="329" rx="47.9" ry="84" transform="rotate(32 686 329)" fill="#fff" stroke-width="3"/>
<path d="M722,258.3A46.2 81 32 0 1 638.2,392.4" fill="none" stroke-width="2.2"/>
<path d="M707.1,290.4 710.9,277.1 720.7,266.4 724.8,298.6 714.1,302.9 708,296.9Z" fill="none" stroke-width="3"/>
<path d="M708.7,286.2 711.7,276.7 717.4,271.1 720.1,292.9 714.1,295.9 709.4,292Z" fill="none" stroke-width="2.2"/>
<path d="M663.6,364 671.1,368.1 671,380.1 640.9,387.2 647.1,373.8 657.6,365.5Z" fill="none" stroke-width="3"/>
<path d="M659.5,367.6 664.6,370.8 664,377.9 643.7,382.7 646.7,375.1 654.1,368.9Z" fill="none" stroke-width="2.2"/>
<path d="M642.7,312.4 632.7,322.3 623,322.8 644.3,284.5 649.8,291.6 647,304.7Z" fill="none" stroke-width="3"/>
<path d="M637.4,309.1 630.2,315.8 624.9,315.5 639.4,289.6 642.9,293 641.3,302.2Z" fill="none" stroke-width="2.2"/>
<path d="M696,281A26.2 46 32 0 0 647.2,359L655.7,364.3A26.2 46 32 0 0 704.4,286.3Z" fill="#fff" stroke-width="3"/>
<ellipse cx="680.1" cy="325.3" rx="26.2" ry="46" transform="rotate(32 680.1 325.3)" fill="#fff" stroke-width="3"/>
<path d="M711,331.6 707,339.2 702.2,346.4 696.9,353.1 694.4,348.9 698.9,343.2 702.9,337.1 706.3,330.7Z" fill="#fff" stroke-width="2.2"/>
<path d="M645.4,363.1 643.4,357.9 642.2,351.8 642.1,345 647.9,342 647.9,347.8 648.9,353 650.7,357.4Z" fill="#fff" stroke-width="2.2"/>
<path d="M683.8,281.2 689.9,278.8 695.7,277.7 701.1,277.8 697.9,285 693.3,284.9 688.4,285.8 683.2,287.8Z" fill="#fff" stroke-width="2.2"/>
<ellipse cx="680.1" cy="325.3" rx="23.9" ry="42" transform="rotate(32 680.1 325.3)" fill="#fff" stroke-width="2.2"/>
<ellipse cx="680.1" cy="325.3" rx="20.5" ry="36" transform="rotate(32 680.1 325.3)" fill="#fff" stroke-width="3"/>
<ellipse cx="678.4" cy="324.2" rx="18.8" ry="33" transform="rotate(32 678.4 324.2)" fill="#fff" stroke-width="2.2"/>
<path d="M684.8,296.1A18.8 33 32 0 1 655.9,342.4" fill="none" stroke-width="2.2"/>
<path d="M504.7,512.5 510.5,518.2 479,488.3 472.4,483.7Z" fill="#fff" stroke-width="2.3"/>
<path d="M509.9,498.2 516.9,501.9 484.3,472 476.6,469.4Z" fill="#fff" stroke-width="2.3"/>
<path d="M467.4,577.4 462.2,570.9 432.9,544.9 438.9,550.3Z" fill="#fff" stroke-width="2.3"/>
<path d="M513.4,484 521.5,485.7 487.7,456 479.1,455.5Z" fill="#fff" stroke-width="2.3"/>
<path d="M455,587 451.1,578.9 422.1,554 426.8,561.2Z" fill="#fff" stroke-width="2.3"/>
<path d="M515.1,470.3 524,470 489,440.7 479.8,442.3Z" fill="#fff" stroke-width="2.3"/>
<path d="M442.3,594.4 440,584.8 411,561.1 414.2,569.9Z" fill="#fff" stroke-width="2.3"/>
<path d="M515,457.5 524.5,455.1 488.3,426.6 478.6,430.2Z" fill="#fff" stroke-width="2.3"/>
<path d="M429.9,599.2 429.1,588.4 399.9,566.1 401.6,576.2Z" fill="#fff" stroke-width="2.3"/>
<path d="M513.1,446 522.8,441.6 485.4,414 475.7,419.5Z" fill="#fff" stroke-width="2.3"/>
<path d="M417.9,601.5 418.8,589.8 389.2,568.8 389.2,580Z" fill="#fff" stroke-width="2.3"/>
<path d="M509.4,436 519.2,429.7 480.6,403.2 471,410.5Z" fill="#fff" stroke-width="2.3"/>
<path d="M406.7,601 409.2,588.7 379.1,569.1 377.6,581.1Z" fill="#fff" stroke-width="2.3"/>
<path d="M504,427.9 513.5,419.9 473.9,394.7 464.7,403.5Z" fill="#fff" stroke-width="2.3"/>
<path d="M396.7,597.9 400.6,585.4 369.9,567.1 366.8,579.6Z" fill="#fff" stroke-width="2.3"/>
<path d="M497.1,421.7 506.1,412.3 465.6,388.5 457,398.7Z" fill="#fff" stroke-width="2.3"/>
<path d="M495.4,420.6 497.1,421.7 457,398.7 455,397.9Z" fill="#fff" stroke-width="2.3"/>
<path d="M389.9,593.7 388,592.2 357.3,575.3 359.4,576.5Z" fill="#fff" stroke-width="2.3"/>
<path d="M388,592.2 393.4,579.7 361.9,562.8 357.3,575.3Z" fill="#fff" stroke-width="2.3"/>
<path d="M497.2,407.1 499.3,408.1 458.2,385.4 455.8,384.8Z" fill="#fff" stroke-width="2.3"/>
<path d="M393.4,579.7 392,578.1 360.3,561.5 361.9,562.8Z" fill="#fff" stroke-width="2.3"/>
<path d="M488.9,417.8 497.2,407.1 455.8,384.8 448.1,396.1Z" fill="#fff" stroke-width="2.3"/>
<path d="M486.8,417.3 488.9,417.8 448.1,396.1 445.9,395.9Z" fill="#fff" stroke-width="2.3"/>
<path d="M382.5,586.1 381,584.1 349.4,568.6 351,570.3Z" fill="#fff" stroke-width="2.3"/>
<path d="M381,584.1 387.7,572 355.3,556.3 349.4,568.6Z" fill="#fff" stroke-width="2.3"/>
<path d="M387.7,572 386.6,570 354,554.5 355.3,556.3Z" fill="#fff" stroke-width="2.3"/>
<path d="M486.8,404.6 489.3,405 447.4,383.9 444.8,383.9Z" fill="#fff" stroke-width="2.3"/>
<path d="M479.5,416.3 486.8,404.6 444.8,383.9 438.2,395.9Z" fill="#fff" stroke-width="2.3"/>
<path d="M477.2,416.2 479.5,416.3 438.2,395.9 435.8,396.2Z" fill="#fff" stroke-width="2.3"/>
<path d="M376.8,576.3 375.8,573.7 343.1,559.5 344.4,561.8Z" fill="#fff" stroke-width="2.3"/>
<path d="M375.8,573.7 383.6,562.4 350.2,547.7 343.1,559.5Z" fill="#fff" stroke-width="2.3"/>
<path d="M383.6,562.4 382.9,560 349.3,545.5 350.2,547.7Z" fill="#fff" stroke-width="2.3"/>
<path d="M475.4,404.8 478.1,404.5 435.7,385 433,385.6Z" fill="#fff" stroke-width="2.3"/>
<path d="M469.3,417.1 475.4,404.8 433,385.6 427.6,398.1Z" fill="#fff" stroke-width="2.3"/>
<path d="M466.9,417.6 469.3,417.1 427.6,398.1 425.1,398.9Z" fill="#fff" stroke-width="2.3"/>
<path d="M381.2,551.2 381,548.5 346.3,534.8 346.9,537.4Z" fill="#fff" stroke-width="2.3"/>
<path d="M373.2,564.4 372.6,561.4 338.7,548.3 339.6,551Z" fill="#fff" stroke-width="2.3"/>
<path d="M372.6,561.4 381.2,551.2 346.9,537.4 338.7,548.3Z" fill="#fff" stroke-width="2.3"/>
<path d="M456,421.2 458.5,420.2 416.6,402.6 414,403.9Z" fill="#fff" stroke-width="2.3"/>
<path d="M458.5,420.2 463.3,407.6 420.5,390 416.6,402.6Z" fill="#fff" stroke-width="2.3"/>
<path d="M463.3,407.6 466.1,406.8 423.4,388.8 420.5,390Z" fill="#fff" stroke-width="2.3"/>
<path d="M380.7,538.7 380.9,535.7 345.2,522.7 345.3,525.6Z" fill="#fff" stroke-width="2.3"/>
<path d="M371.5,547.6 380.7,538.7 345.3,525.6 336.4,535.3Z" fill="#fff" stroke-width="2.3"/>
<path d="M371.5,550.9 371.5,547.6 336.4,535.3 336.7,538.4Z" fill="#fff" stroke-width="2.3"/>
<path d="M444.9,427.1 447.4,425.6 405.5,409.2 402.9,411Z" fill="#fff" stroke-width="2.3"/>
<path d="M447.4,425.6 450.7,413.1 407.9,396.9 405.5,409.2Z" fill="#fff" stroke-width="2.3"/>
<path d="M450.7,413.1 453.7,411.6 410.8,395.1 407.9,396.9Z" fill="#fff" stroke-width="2.3"/>
<path d="M382,525.2 382.6,522 345.9,509.5 345.5,512.6Z" fill="#fff" stroke-width="2.3"/>
<path d="M372.4,532.5 382,525.2 345.5,512.6 336.1,520.9Z" fill="#fff" stroke-width="2.3"/>
<path d="M433.8,435.1 436.3,433.1 394.5,417.8 392.1,420.1Z" fill="#fff" stroke-width="2.3"/>
<path d="M372,536 372.4,532.5 336.1,520.9 336,524.3Z" fill="#fff" stroke-width="2.3"/>
<path d="M436.3,433.1 438.1,421 395.4,406.1 394.5,417.8Z" fill="#fff" stroke-width="2.3"/>
<path d="M385.1,511.1 386.1,507.8 348.3,495.6 347.6,498.8Z" fill="#fff" stroke-width="2.3"/>
<path d="M438.1,421 441,419 398.2,403.8 395.4,406.1Z" fill="#fff" stroke-width="2.3"/>
<path d="M423.2,444.9 425.6,442.5 384.1,428.3 381.8,430.9Z" fill="#fff" stroke-width="2.3"/>
<path d="M375.4,516.6 385.1,511.1 347.6,498.8 337.9,505.4Z" fill="#fff" stroke-width="2.3"/>
<path d="M390,496.8 391.3,493.5 352.6,481.3 351.5,484.6Z" fill="#fff" stroke-width="2.3"/>
<path d="M425.6,442.5 425.8,431.1 383.3,417.5 384.1,428.3Z" fill="#fff" stroke-width="2.3"/>
<path d="M413.2,456.3 415.4,453.6 374.4,440.1 372.3,443Z" fill="#fff" stroke-width="2.3"/>
<path d="M374.5,520.3 375.4,516.6 337.9,505.4 337.3,509Z" fill="#fff" stroke-width="2.3"/>
<path d="M386.1,507.8 379.1,504.1 340.7,493 348.3,495.6Z" fill="#fff" stroke-width="2.3"/>
<path d="M396.4,482.6 398.1,479.4 358.5,467 357,470.3Z" fill="#fff" stroke-width="2.3"/>
<path d="M404.2,469 406.2,466 365.8,453.2 364,456.3Z" fill="#fff" stroke-width="2.3"/>
<path d="M380.4,500.3 390,496.8 351.5,484.6 341.7,489.3Z" fill="#fff" stroke-width="2.3"/>
<path d="M425.8,431.1 428.6,428.6 386.1,414.7 383.3,417.5Z" fill="#fff" stroke-width="2.3"/>
<path d="M415.4,453.6 414,443.3 372.1,430.5 374.4,440.1Z" fill="#fff" stroke-width="2.3"/>
<path d="M391.3,493.5 385.5,487.8 346,476.7 352.6,481.3Z" fill="#fff" stroke-width="2.3"/>
<path d="M405.6,453.7 413.2,456.3 372.3,443 364.2,441.6Z" fill="#fff" stroke-width="2.3"/>
<path d="M387.2,484.1 396.4,482.6 357,470.3 347.5,473Z" fill="#fff" stroke-width="2.3"/>
<path d="M379.1,504.1 380.4,500.3 341.7,489.3 340.7,493Z" fill="#fff" stroke-width="2.3"/>
<path d="M406.2,466 403.2,457 361.9,445.1 365.8,453.2Z" fill="#fff" stroke-width="2.3"/>
<path d="M398.1,479.4 393.6,472 353.2,460.6 358.5,467Z" fill="#fff" stroke-width="2.3"/>
<path d="M395.7,468.4 404.2,469 364,456.3 355,456.9Z" fill="#fff" stroke-width="2.3"/>
<path d="M414,443.3 416.6,440.3 374.6,427.4 372.1,430.5Z" fill="#fff" stroke-width="2.3"/>
<path d="M385.5,487.8 387.2,484.1 347.5,473 346,476.7Z" fill="#fff" stroke-width="2.3"/>
<path d="M403.2,457 405.6,453.7 364.2,441.6 361.9,445.1Z" fill="#fff" stroke-width="2.3"/>
<path d="M393.6,472 395.7,468.4 355,456.9 353.2,460.6Z" fill="#fff" stroke-width="2.3"/>
<path d="M497.1,421.7 506.1,412.3 508,413.8 502.6,426.3 504,427.9 513.5,419.9 515,421.9 508.3,434 509.4,436 519.2,429.7 520.2,432.3 512.4,443.6 513.1,446 522.8,441.6 523.4,444.6 514.8,454.8 515,457.5 524.5,455.1 524.5,458.4 515.3,467.3 515.1,470.3 524,470 523.6,473.5 514,480.8 513.4,484 521.5,485.7 520.6,489.4 510.9,494.9 509.9,498.2 516.9,501.9 515.6,505.7 506,509.2 504.7,512.5 510.5,518.2 508.8,521.9 499.6,523.4 497.9,526.6 502.4,534 500.3,537.6 491.8,537 489.8,540 492.8,549 490.4,552.3 482.8,549.7 480.6,552.4 482,562.7 479.4,565.7 472.8,561.1 470.4,563.5 470.2,574.9 467.4,577.4 462.2,570.9 459.7,572.9 457.9,585 455,587 451.1,578.9 448.6,580.4 445.3,592.9 442.3,594.4 440,584.8 437.5,585.8 432.7,598.4 429.9,599.2 429.1,588.4 426.7,588.9 420.6,601.2 417.9,601.5 418.8,589.8 416.5,589.7 409.2,601.4 406.7,601 409.2,588.7 407.1,588.2 398.8,598.9 396.7,597.9 400.6,585.4 398.9,584.3 389.9,593.7 388,592.2 393.4,579.7 392,578.1 382.5,586.1 381,584.1 387.7,572 386.6,570 376.8,576.3 375.8,573.7 383.6,562.4 382.9,560 373.2,564.4 372.6,561.4 381.2,551.2 381,548.5 371.5,550.9 371.5,547.6 380.7,538.7 380.9,535.7 372,536 372.4,532.5 382,525.2 382.6,522 374.5,520.3 375.4,516.6 385.1,511.1 386.1,507.8 379.1,504.1 380.4,500.3 390,496.8 391.3,493.5 385.5,487.8 387.2,484.1 396.4,482.6 398.1,479.4 393.6,472 395.7,468.4 404.2,469 406.2,466 403.2,457 405.6,453.7 413.2,456.3 415.4,453.6 414,443.3 416.6,440.3 423.2,444.9 425.6,442.5 425.8,431.1 428.6,428.6 433.8,435.1 436.3,433.1 438.1,421 441,419 444.9,427.1 447.4,425.6 450.7,413.1 453.7,411.6 456,421.2 458.5,420.2 463.3,407.6 466.1,406.8 466.9,417.6 469.3,417.1 475.4,404.8 478.1,404.5 477.2,416.2 479.5,416.3 486.8,404.6 489.3,405 486.8,417.3 488.9,417.8 497.2,407.1 499.3,408.1 495.4,420.6Z" fill="#fff" stroke-width="3"/>
<ellipse cx="448" cy="503" rx="51.6" ry="89" transform="rotate(30 448 503)" fill="#fff" stroke-width="3"/>
<path d="M483.7,426.6A49.9 86 30 0 1 399.7,572.1" fill="none" stroke-width="2.2"/>
<path d="M469.4,461.3 472.8,447 482.9,435.3 488.7,469.6 477.4,474.5 470.5,468.2Z" fill="none" stroke-width="3"/>
<path d="M471.1,456.9 473.8,446.7 479.7,440.5 483.6,463.7 477.3,467.1 472.1,463.1Z" fill="none" stroke-width="2.2"/>
<path d="M425.9,541.3 434.1,545.4 434.5,558.2 402.5,566.7 408.5,552.2 419.4,543Z" fill="none" stroke-width="3"/>
<path d="M421.8,545.3 427.4,548.6 427.1,556.2 405.5,561.9 408.4,553.7 416.1,546.8Z" fill="none" stroke-width="2.2"/>
<path d="M401,486.7 390.6,497.6 380.2,498.4 401.4,456.9 407.6,464.3 405.3,478.3Z" fill="none" stroke-width="3"/>
<path d="M395.4,483.4 387.8,490.9 382.2,490.7 396.6,462.6 400.5,466.1 399.2,476Z" fill="none" stroke-width="2.2"/>
<path d="M456.9,451.6A28.4 49 30 0 0 407.9,536.4L416.6,541.4A28.4 49 30 0 0 465.6,456.6Z" fill="#fff" stroke-width="3"/>
<ellipse cx="441.1" cy="499" rx="28.4" ry="49" transform="rotate(30 441.1 499)" fill="#fff" stroke-width="3"/>
<path d="M474.4,504.8 470.5,513 465.8,520.8 460.4,528 457.6,523.8 462.2,517.7 466.3,511 469.6,504Z" fill="#fff" stroke-width="2.2"/>
<path d="M405.8,540.1 403.3,534.6 401.8,528.2 401.4,521 407.1,517.9 407.4,524 408.7,529.5 410.8,534.2Z" fill="#fff" stroke-width="2.2"/>
<path d="M443.1,452.1 449.5,449.4 455.6,448 461.4,448 458.5,455.3 453.6,455.3 448.3,456.5 442.8,458.8Z" fill="#fff" stroke-width="2.2"/>
<ellipse cx="441.1" cy="499" rx="26.1" ry="45" transform="rotate(30 441.1 499)" fill="#fff" stroke-width="2.2"/>
<ellipse cx="441.1" cy="499" rx="22.6" ry="39" transform="rotate(30 441.1 499)" fill="#fff" stroke-width="3"/>
<ellipse cx="439.3" cy="498" rx="20.9" ry="36" transform="rotate(30 439.3 498)" fill="#fff" stroke-width="2.2"/>
<path d="M446.7,466.5A20.9 36 30 0 1 415.7,520.1" fill="none" stroke-width="2.2"/>
<path d="M1368,471.1 1359.8,464.8 1328.9,446.2 1337.1,452.6Z" fill="#fff" stroke-width="3"/>
<path d="M1390.9,405 1402,405.8 1371.1,387.3 1360.1,386.4Z" fill="#fff" stroke-width="3"/>
<path d="M1351.7,485.5 1346.6,475.2 1315.8,456.7 1320.9,467Z" fill="#fff" stroke-width="3"/>
<path d="M1391.2,389.6 1403.6,385.9 1372.7,367.4 1360.3,371.1Z" fill="#fff" stroke-width="3"/>
<path d="M1334.9,494.9 1333.3,481.5 1302.4,463 1304,476.4Z" fill="#fff" stroke-width="3"/>
<path d="M1387.7,377.1 1400.5,369 1369.6,350.5 1356.8,358.5Z" fill="#fff" stroke-width="3"/>
<path d="M1318.8,498.5 1320.9,483.1 1290,464.5 1288,480Z" fill="#fff" stroke-width="3"/>
<path d="M1380.7,368.2 1392.8,356.5 1361.9,338 1349.8,349.7Z" fill="#fff" stroke-width="3"/>
<path d="M1304.8,496 1310.4,479.8 1279.5,461.3 1274,477.5Z" fill="#fff" stroke-width="3"/>
<path d="M1310.4,479.8 1308.3,478.4 1277.5,459.8 1279.5,461.3Z" fill="#fff" stroke-width="3"/>
<path d="M1381.2,349.4 1384.2,350.6 1353.3,332 1350.3,330.9Z" fill="#fff" stroke-width="3"/>
<path d="M1370.7,363.9 1381.2,349.4 1350.3,330.9 1339.9,345.3Z" fill="#fff" stroke-width="3"/>
<path d="M1296.2,490.1 1294.1,487.7 1263.2,469.1 1265.4,471.5Z" fill="#fff" stroke-width="3"/>
<path d="M1368.1,363.5 1370.7,363.9 1339.9,345.3 1337.3,345Z" fill="#fff" stroke-width="3"/>
<path d="M1294.1,487.7 1302.6,471.9 1271.8,453.4 1263.2,469.1Z" fill="#fff" stroke-width="3"/>
<path d="M1302.6,471.9 1301.3,469.5 1270.5,451 1271.8,453.4Z" fill="#fff" stroke-width="3"/>
<path d="M1366.6,348.3 1370.2,348.1 1339.3,329.5 1335.8,329.8Z" fill="#fff" stroke-width="3"/>
<path d="M1358.7,364.3 1366.6,348.3 1335.8,329.8 1327.8,345.8Z" fill="#fff" stroke-width="3"/>
<path d="M1355.7,365.1 1358.7,364.3 1327.8,345.8 1324.8,346.5Z" fill="#fff" stroke-width="3"/>
<path d="M1288.5,477.6 1287.4,474.1 1256.5,455.5 1257.7,459Z" fill="#fff" stroke-width="3"/>
<path d="M1298.3,460.1 1297.8,457 1266.9,438.4 1267.4,441.6Z" fill="#fff" stroke-width="3"/>
<path d="M1287.4,474.1 1298.3,460.1 1267.4,441.6 1256.5,455.5Z" fill="#fff" stroke-width="3"/>
<path d="M1342.4,371.4 1345.5,369.5 1314.6,351 1311.5,352.8Z" fill="#fff" stroke-width="3"/>
<path d="M1345.5,369.5 1350.3,353.3 1319.4,334.8 1314.6,351Z" fill="#fff" stroke-width="3"/>
<path d="M1297.7,445.3 1298.1,441.6 1267.2,423.1 1266.8,426.8Z" fill="#fff" stroke-width="3"/>
<path d="M1350.3,353.3 1354.1,351.7 1323.3,333.1 1319.4,334.8Z" fill="#fff" stroke-width="3"/>
<path d="M1285.3,456.3 1297.7,445.3 1266.8,426.8 1254.5,437.8Z" fill="#fff" stroke-width="3"/>
<path d="M1285.4,460.7 1285.3,456.3 1254.5,437.8 1254.5,442.2Z" fill="#fff" stroke-width="3"/>
<path d="M1329.2,381.8 1332.2,379.1 1301.3,360.6 1298.4,363.3Z" fill="#fff" stroke-width="3"/>
<path d="M1300.9,428.8 1302.1,424.9 1271.3,406.3 1270,410.2Z" fill="#fff" stroke-width="3"/>
<path d="M1332.2,379.1 1333.4,364 1302.6,345.4 1301.3,360.6Z" fill="#fff" stroke-width="3"/>
<path d="M1317.3,395.7 1319.9,392.3 1289,373.7 1286.4,377.1Z" fill="#fff" stroke-width="3"/>
<path d="M1307.6,411.8 1309.6,407.9 1278.7,389.4 1276.7,393.2Z" fill="#fff" stroke-width="3"/>
<path d="M1288.1,435.9 1300.9,428.8 1270,410.2 1257.2,417.4Z" fill="#fff" stroke-width="3"/>
<path d="M1333.4,364 1337.3,361.1 1306.4,342.5 1302.6,345.4Z" fill="#fff" stroke-width="3"/>
<path d="M1302.1,424.9 1293.3,419.4 1262.5,400.9 1271.3,406.3Z" fill="#fff" stroke-width="3"/>
<path d="M1287,440.8 1288.1,435.9 1257.2,417.4 1256.2,422.2Z" fill="#fff" stroke-width="3"/>
<path d="M1319.9,392.3 1317.5,379.4 1286.7,360.9 1289,373.7Z" fill="#fff" stroke-width="3"/>
<path d="M1295.4,414.5 1307.6,411.8 1276.7,393.2 1264.5,396Z" fill="#fff" stroke-width="3"/>
<path d="M1306.7,393.8 1317.3,395.7 1286.4,377.1 1275.8,375.3Z" fill="#fff" stroke-width="3"/>
<path d="M1309.6,407.9 1303.8,398.4 1272.9,379.9 1278.7,389.4Z" fill="#fff" stroke-width="3"/>
<path d="M1317.5,379.4 1321,375.5 1290.2,357 1286.7,360.9Z" fill="#fff" stroke-width="3"/>
<path d="M1293.3,419.4 1295.4,414.5 1264.5,396 1262.5,400.9Z" fill="#fff" stroke-width="3"/>
<path d="M1303.8,398.4 1306.7,393.8 1275.8,375.3 1272.9,379.9Z" fill="#fff" stroke-width="3"/>
<path d="M1380.7,368.2 1392.8,356.5 1394.9,358.9 1386.4,374.7 1387.7,377.1 1400.5,369 1401.6,372.5 1390.7,386.5 1391.2,389.6 1403.6,385.9 1403.7,390.3 1391.3,401.3 1390.9,405 1402,405.8 1400.9,410.7 1388.1,417.8 1386.9,421.7 1395.7,427.2 1393.6,432.1 1381.4,434.8 1379.4,438.7 1385.2,448.2 1382.3,452.8 1371.7,450.9 1369.1,454.3 1371.5,467.2 1368,471.1 1359.8,464.8 1356.8,467.5 1355.6,482.6 1351.7,485.5 1346.6,475.2 1343.5,477.1 1338.7,493.3 1334.9,494.9 1333.3,481.5 1330.3,482.3 1322.4,498.3 1318.8,498.5 1320.9,483.1 1318.3,482.7 1307.8,497.2 1304.8,496 1310.4,479.8 1308.3,478.4 1296.2,490.1 1294.1,487.7 1302.6,471.9 1301.3,469.5 1288.5,477.6 1287.4,474.1 1298.3,460.1 1297.8,457 1285.4,460.7 1285.3,456.3 1297.7,445.3 1298.1,441.6 1287,440.8 1288.1,435.9 1300.9,428.8 1302.1,424.9 1293.3,419.4 1295.4,414.5 1307.6,411.8 1309.6,407.9 1303.8,398.4 1306.7,393.8 1317.3,395.7 1319.9,392.3 1317.5,379.4 1321,375.5 1329.2,381.8 1332.2,379.1 1333.4,364 1337.3,361.1 1342.4,371.4 1345.5,369.5 1350.3,353.3 1354.1,351.7 1355.7,365.1 1358.7,364.3 1366.6,348.3 1370.2,348.1 1368.1,363.5 1370.7,363.9 1381.2,349.4 1384.2,350.6 1378.6,366.8Z" fill="#fff" stroke-width="3"/>
<ellipse cx="1344.5" cy="423.3" rx="27.6" ry="48" transform="rotate(31 1344.5 423.3)" fill="#fff" stroke-width="3"/>
<ellipse cx="1344.5" cy="423.3" rx="25.3" ry="44" transform="rotate(31 1344.5 423.3)" fill="#fff" stroke-width="2.2"/>
<path d="M1366.1,387.3A24.1 42 31 0 0 1322.9,459.3L1355.4,478.9A24.1 42 31 0 0 1398.7,406.9Z" fill="#fff" stroke-width="3"/>
<path d="M1415.9,498.5 1411,490.8 1380.1,472.3 1385.1,479.9Z" fill="#fff" stroke-width="3"/>
<path d="M1438.6,443 1448,443 1417.1,424.5 1407.7,424.5Z" fill="#fff" stroke-width="3"/>
<path d="M1401,507.4 1399.7,496.2 1368.9,477.7 1370.2,488.8Z" fill="#fff" stroke-width="3"/>
<path d="M1437.4,431 1447.9,426.1 1417,407.6 1406.5,412.5Z" fill="#fff" stroke-width="3"/>
<path d="M1387,509.6 1389.6,496.4 1358.8,477.9 1356.2,491Z" fill="#fff" stroke-width="3"/>
<path d="M1432.2,422.7 1442.5,413.6 1411.6,395 1401.4,404.1Z" fill="#fff" stroke-width="3"/>
<path d="M1378.1,506.5 1375.9,504.8 1345,486.3 1347.2,488Z" fill="#fff" stroke-width="3"/>
<path d="M1432.3,407 1435,407.9 1404.2,389.4 1401.5,388.5Z" fill="#fff" stroke-width="3"/>
<path d="M1375.9,504.8 1382,491.5 1351.2,473 1345,486.3Z" fill="#fff" stroke-width="3"/>
<path d="M1423.8,419.1 1432.3,407 1401.5,388.5 1393,400.6Z" fill="#fff" stroke-width="3"/>
<path d="M1382,491.5 1380.7,489.7 1349.9,471.1 1351.2,473Z" fill="#fff" stroke-width="3"/>
<path d="M1421.5,419 1423.8,419.1 1393,400.6 1390.7,400.5Z" fill="#fff" stroke-width="3"/>
<path d="M1370.2,496.8 1369.1,493.8 1338.2,475.2 1339.3,478.3Z" fill="#fff" stroke-width="3"/>
<path d="M1369.1,493.8 1377.9,482 1347,463.5 1338.2,475.2Z" fill="#fff" stroke-width="3"/>
<path d="M1377.9,482 1377.5,479.3 1346.7,460.8 1347,463.5Z" fill="#fff" stroke-width="3"/>
<path d="M1418.9,407.4 1422.2,406.7 1391.4,388.1 1388.1,388.8Z" fill="#fff" stroke-width="3"/>
<path d="M1410.7,421.9 1413.3,420.8 1382.4,402.2 1379.8,403.3Z" fill="#fff" stroke-width="3"/>
<path d="M1413.3,420.8 1418.9,407.4 1388.1,388.8 1382.4,402.2Z" fill="#fff" stroke-width="3"/>
<path d="M1377.8,469.3 1378.4,466.1 1347.6,447.6 1347,450.8Z" fill="#fff" stroke-width="3"/>
<path d="M1399.5,429.6 1402,427.5 1371.2,408.9 1368.6,411.1Z" fill="#fff" stroke-width="3"/>
<path d="M1367.5,477.9 1377.8,469.3 1347,450.8 1336.6,459.3Z" fill="#fff" stroke-width="3"/>
<path d="M1402,427.5 1404.1,414.5 1373.2,396 1371.2,408.9Z" fill="#fff" stroke-width="3"/>
<path d="M1367.4,481.8 1367.5,477.9 1336.6,459.3 1336.5,463.3Z" fill="#fff" stroke-width="3"/>
<path d="M1381.9,455.1 1383.3,451.8 1352.5,433.2 1351,436.5Z" fill="#fff" stroke-width="3"/>
<path d="M1389.4,441.2 1391.6,438.3 1360.7,419.8 1358.6,422.7Z" fill="#fff" stroke-width="3"/>
<path d="M1404.1,414.5 1407.5,412.3 1376.7,393.8 1373.2,396Z" fill="#fff" stroke-width="3"/>
<path d="M1371.4,459.3 1381.9,455.1 1351,436.5 1340.6,440.7Z" fill="#fff" stroke-width="3"/>
<path d="M1391.6,438.3 1389.7,427.6 1358.9,409 1360.7,419.8Z" fill="#fff" stroke-width="3"/>
<path d="M1383.3,451.8 1377.8,444.7 1347,426.2 1352.5,433.2Z" fill="#fff" stroke-width="3"/>
<path d="M1380.3,440.5 1389.4,441.2 1358.6,422.7 1349.4,422Z" fill="#fff" stroke-width="3"/>
<path d="M1370,463.7 1371.4,459.3 1340.6,440.7 1339.2,445.1Z" fill="#fff" stroke-width="3"/>
<path d="M1389.7,427.6 1392.9,424.1 1362,405.6 1358.9,409Z" fill="#fff" stroke-width="3"/>
<path d="M1377.8,444.7 1380.3,440.5 1349.4,422 1347,426.2Z" fill="#fff" stroke-width="3"/>
<path d="M1432.2,422.7 1442.5,413.6 1444.2,416 1436.5,428.7 1437.4,431 1447.9,426.1 1448.4,429.7 1438.7,440 1438.6,443 1448,443 1447.2,447.3 1436.6,453.7 1435.6,457 1442.6,461.9 1440.7,466.2 1430.7,468 1428.9,471.2 1432.6,480.2 1429.8,484.1 1421.8,481 1419.4,483.6 1419.3,495.6 1415.9,498.5 1411,490.8 1408.4,492.5 1404.4,505.9 1401,507.4 1399.7,496.2 1397.3,496.7 1390.1,509.7 1387,509.6 1389.6,496.4 1387.6,495.8 1378.1,506.5 1375.9,504.8 1382,491.5 1380.7,489.7 1370.2,496.8 1369.1,493.8 1377.9,482 1377.5,479.3 1367.4,481.8 1367.5,477.9 1377.8,469.3 1378.4,466.1 1370,463.7 1371.4,459.3 1381.9,455.1 1383.3,451.8 1377.8,444.7 1380.3,440.5 1389.4,441.2 1391.6,438.3 1389.7,427.6 1392.9,424.1 1399.5,429.6 1402,427.5 1404.1,414.5 1407.5,412.3 1410.7,421.9 1413.3,420.8 1418.9,407.4 1422.2,406.7 1421.5,419 1423.8,419.1 1432.3,407 1435,407.9 1430.6,421.4Z" fill="#fff" stroke-width="3"/>
<path d="M1424.2,431A18.1 31.5 31 0 0 1391.8,485L1396.1,487.6A18.1 31.5 31 0 0 1428.5,433.6Z" fill="#fff" stroke-width="3"/>
<ellipse cx="1412.3" cy="460.6" rx="18.1" ry="31.5" transform="rotate(31 1412.3 460.6)" fill="#fff" stroke-width="3"/>
<ellipse cx="1412.3" cy="460.6" rx="15.5" ry="27" transform="rotate(31 1412.3 460.6)" fill="#fff" stroke-width="2.2"/>
<ellipse cx="1412.3" cy="460.6" rx="12.1" ry="21" transform="rotate(31 1412.3 460.6)" fill="#fff" stroke-width="3"/>
<path d="M1415.9,442.6A12.1 21 31 0 1 1398.1,472.2" fill="none" stroke-width="2.2"/>
<path d="M1562.2,179.9A29.9 52 31 0 0 1508.6,269.1L1539.5,287.6A29.9 52 31 0 0 1593.1,198.5Z" fill="#fff" stroke-width="3"/>
<path d="M1653.5,259.4 1664.7,259.9 1611.6,227.9 1600.3,227.5Z" fill="#fff" stroke-width="3"/>
<path d="M1623.5,324.9 1618.8,314.1 1565.7,282.1 1570.3,292.9Z" fill="#fff" stroke-width="3"/>
<path d="M1652.3,245.1 1665.1,239.2 1611.9,207.3 1599.2,213.1Z" fill="#fff" stroke-width="3"/>
<path d="M1605.5,333.1 1605.8,318.4 1552.6,286.5 1552.4,301.2Z" fill="#fff" stroke-width="3"/>
<path d="M1646.1,235.2 1658.5,224 1605.3,192.1 1593,203.3Z" fill="#fff" stroke-width="3"/>
<path d="M1589.7,332.5 1594.8,316.2 1541.6,284.2 1536.5,300.5Z" fill="#fff" stroke-width="3"/>
<path d="M1594.8,316.2 1592.8,314.7 1539.6,282.8 1541.6,284.2Z" fill="#fff" stroke-width="3"/>
<path d="M1645.9,216.6 1649.2,217.5 1596.1,185.6 1592.8,184.6Z" fill="#fff" stroke-width="3"/>
<path d="M1635.9,231.5 1645.9,216.6 1592.8,184.6 1582.8,199.5Z" fill="#fff" stroke-width="3"/>
<path d="M1580.4,326 1578.3,323.1 1525.2,291.2 1527.3,294Z" fill="#fff" stroke-width="3"/>
<path d="M1633.1,231.5 1635.9,231.5 1582.8,199.5 1580,199.6Z" fill="#fff" stroke-width="3"/>
<path d="M1578.3,323.1 1587.6,307.6 1534.4,275.7 1525.2,291.2Z" fill="#fff" stroke-width="3"/>
<path d="M1587.6,307.6 1586.6,304.9 1533.4,273 1534.4,275.7Z" fill="#fff" stroke-width="3"/>
<path d="M1620.1,235.9 1623.2,234.3 1570,202.4 1566.9,204Z" fill="#fff" stroke-width="3"/>
<path d="M1623.2,234.3 1629.3,218 1576.2,186.1 1570,202.4Z" fill="#fff" stroke-width="3"/>
<path d="M1629.3,218 1633.4,216.9 1580.2,184.9 1576.2,186.1Z" fill="#fff" stroke-width="3"/>
<path d="M1585.2,294.1 1585.4,290.5 1532.3,258.6 1532.1,262.2Z" fill="#fff" stroke-width="3"/>
<path d="M1573.3,306.4 1585.2,294.1 1532.1,262.2 1520.1,274.5Z" fill="#fff" stroke-width="3"/>
<path d="M1573.8,310.8 1573.3,306.4 1520.1,274.5 1520.7,278.8Z" fill="#fff" stroke-width="3"/>
<path d="M1606.9,246.2 1609.9,243.4 1556.7,211.4 1553.8,214.3Z" fill="#fff" stroke-width="3"/>
<path d="M1588.1,277.7 1589.4,273.8 1536.3,241.9 1534.9,245.8Z" fill="#fff" stroke-width="3"/>
<path d="M1595.7,260.9 1598,257.2 1544.9,225.3 1542.6,229Z" fill="#fff" stroke-width="3"/>
<path d="M1609.9,243.4 1611.3,228.1 1558.1,196.2 1556.7,211.4Z" fill="#fff" stroke-width="3"/>
<path d="M1575.3,284.9 1588.1,277.7 1534.9,245.8 1522.1,253Z" fill="#fff" stroke-width="3"/>
<path d="M1611.3,228.1 1615.4,225.1 1562.3,193.2 1558.1,196.2Z" fill="#fff" stroke-width="3"/>
<path d="M1598.1,240.9 1606.9,246.2 1553.8,214.3 1544.9,209Z" fill="#fff" stroke-width="3"/>
<path d="M1589.4,273.8 1581.4,267.2 1528.3,235.2 1536.3,241.9Z" fill="#fff" stroke-width="3"/>
<path d="M1574.2,290.1 1575.3,284.9 1522.1,253 1521,258.2Z" fill="#fff" stroke-width="3"/>
<path d="M1598,257.2 1594.4,245.4 1541.3,213.5 1544.9,225.3Z" fill="#fff" stroke-width="3"/>
<path d="M1584,261.9 1595.7,260.9 1542.6,229 1530.8,230Z" fill="#fff" stroke-width="3"/>
<path d="M1594.4,245.4 1598.1,240.9 1544.9,209 1541.3,213.5Z" fill="#fff" stroke-width="3"/>
<path d="M1581.4,267.2 1584,261.9 1530.8,230 1528.3,235.2Z" fill="#fff" stroke-width="3"/>
<path d="M1646.1,235.2 1658.5,224 1660.5,226.9 1651.3,242.3 1652.3,245.1 1665.1,239.2 1665.6,243.6 1653.7,255.8 1653.5,259.4 1664.7,259.9 1663.6,265.1 1650.8,272.2 1649.4,276.2 1657.5,282.8 1654.9,288.1 1643.2,289.1 1640.9,292.7 1644.5,304.6 1640.8,309.1 1631.9,303.8 1629,306.6 1627.6,321.8 1623.5,324.9 1618.8,314.1 1615.7,315.6 1609.5,332 1605.5,333.1 1605.8,318.4 1603,318.5 1593,333.4 1589.7,332.5 1594.8,316.2 1592.8,314.7 1580.4,326 1578.3,323.1 1587.6,307.6 1586.6,304.9 1573.8,310.8 1573.3,306.4 1585.2,294.1 1585.4,290.5 1574.2,290.1 1575.3,284.9 1588.1,277.7 1589.4,273.8 1581.4,267.2 1584,261.9 1595.7,260.9 1598,257.2 1594.4,245.4 1598.1,240.9 1606.9,246.2 1609.9,243.4 1611.3,228.1 1615.4,225.1 1620.1,235.9 1623.2,234.3 1629.3,218 1633.4,216.9 1633.1,231.5 1635.9,231.5 1645.9,216.6 1649.2,217.5 1644.1,233.8Z" fill="#fff" stroke-width="3"/>
<ellipse cx="1619.4" cy="275" rx="23" ry="40" transform="rotate(31 1619.4 275)" fill="#fff" stroke-width="3"/>
<ellipse cx="1619.4" cy="275" rx="20.7" ry="36" transform="rotate(31 1619.4 275)" fill="#fff" stroke-width="2.2"/>
<path d="M1637,245.8A19.5 34 31 0 0 1601.9,304.1L1661.9,340.2A19.5 34 31 0 0 1697,281.9Z" fill="#fff" stroke-width="3"/>
<path d="M1752.2,313.8 1760.8,315.7 1732.5,298.7 1723.9,296.8Z" fill="#fff" stroke-width="3"/>
<path d="M1719,383.1 1713.7,375.8 1685.4,358.8 1690.7,366.1Z" fill="#fff" stroke-width="3"/>
<path d="M1753.8,300 1763.6,298.7 1735.3,281.7 1725.5,283Z" fill="#fff" stroke-width="3"/>
<path d="M1705.2,392.8 1702.2,383.1 1673.9,366.1 1676.9,375.8Z" fill="#fff" stroke-width="3"/>
<path d="M1752.5,287.7 1763,283.3 1734.7,266.3 1724.2,270.7Z" fill="#fff" stroke-width="3"/>
<path d="M1691.4,398.7 1690.9,387 1662.7,370 1663.1,381.7Z" fill="#fff" stroke-width="3"/>
<path d="M1748.6,277.8 1759.1,270.4 1730.8,253.4 1720.3,260.8Z" fill="#fff" stroke-width="3"/>
<path d="M1678.5,400.4 1680.5,387.5 1652.2,370.5 1650.2,383.4Z" fill="#fff" stroke-width="3"/>
<path d="M1742.2,270.7 1752.1,260.9 1723.8,243.9 1713.9,253.7Z" fill="#fff" stroke-width="3"/>
<path d="M1667.1,397.9 1671.6,384.5 1643.3,367.5 1638.8,380.9Z" fill="#fff" stroke-width="3"/>
<path d="M1671.6,384.5 1669.8,383.3 1641.5,366.3 1643.3,367.5Z" fill="#fff" stroke-width="3"/>
<path d="M1742.5,255.1 1744.9,256.1 1716.6,239.1 1714.2,238.1Z" fill="#fff" stroke-width="3"/>
<path d="M1733.7,266.9 1742.5,255.1 1714.2,238.1 1705.4,249.9Z" fill="#fff" stroke-width="3"/>
<path d="M1659.9,393.1 1658,391.3 1629.7,374.3 1631.6,376.1Z" fill="#fff" stroke-width="3"/>
<path d="M1731.5,266.5 1733.7,266.9 1705.4,249.9 1703.2,249.5Z" fill="#fff" stroke-width="3"/>
<path d="M1658,391.3 1664.7,378.1 1636.4,361.1 1629.7,374.3Z" fill="#fff" stroke-width="3"/>
<path d="M1664.7,378.1 1663.4,376.2 1635.1,359.2 1636.4,361.1Z" fill="#fff" stroke-width="3"/>
<path d="M1730.7,253.6 1733.5,253.6 1705.3,236.6 1702.4,236.6Z" fill="#fff" stroke-width="3"/>
<path d="M1723.6,266.5 1730.7,253.6 1702.4,236.6 1695.3,249.5Z" fill="#fff" stroke-width="3"/>
<path d="M1721.1,267 1723.6,266.5 1695.3,249.5 1692.8,250Z" fill="#fff" stroke-width="3"/>
<path d="M1652.9,383.6 1651.7,380.9 1623.4,363.9 1624.6,366.6Z" fill="#fff" stroke-width="3"/>
<path d="M1651.7,380.9 1660.1,368.8 1631.9,351.8 1623.4,363.9Z" fill="#fff" stroke-width="3"/>
<path d="M1660.1,368.8 1659.5,366.3 1631.2,349.3 1631.9,351.8Z" fill="#fff" stroke-width="3"/>
<path d="M1709.8,270.9 1712.4,269.7 1684.1,252.7 1681.5,253.9Z" fill="#fff" stroke-width="3"/>
<path d="M1712.4,269.7 1717.5,256.3 1689.2,239.3 1684.1,252.7Z" fill="#fff" stroke-width="3"/>
<path d="M1717.5,256.3 1720.6,255.3 1692.3,238.3 1689.2,239.3Z" fill="#fff" stroke-width="3"/>
<path d="M1658.3,357 1658.2,354 1630,337 1630,340Z" fill="#fff" stroke-width="3"/>
<path d="M1648.6,367.4 1658.3,357 1630,340 1620.3,350.4Z" fill="#fff" stroke-width="3"/>
<path d="M1649,370.7 1648.6,367.4 1620.3,350.4 1620.7,353.7Z" fill="#fff" stroke-width="3"/>
<path d="M1698.3,278.2 1700.9,276.2 1672.6,259.2 1670,261.2Z" fill="#fff" stroke-width="3"/>
<path d="M1659.2,343.5 1659.8,340.2 1631.5,323.2 1630.9,326.5Z" fill="#fff" stroke-width="3"/>
<path d="M1700.9,276.2 1703.6,263.1 1675.3,246.1 1672.6,259.2Z" fill="#fff" stroke-width="3"/>
<path d="M1648.8,351.5 1659.2,343.5 1630.9,326.5 1620.5,334.5Z" fill="#fff" stroke-width="3"/>
<path d="M1703.6,263.1 1706.8,261.2 1678.5,244.2 1675.3,246.1Z" fill="#fff" stroke-width="3"/>
<path d="M1648.4,355.3 1648.8,351.5 1620.5,334.5 1620.2,338.3Z" fill="#fff" stroke-width="3"/>
<path d="M1687.2,288.2 1689.7,285.7 1661.4,268.7 1658.9,271.2Z" fill="#fff" stroke-width="3"/>
<path d="M1662.8,329 1664,325.6 1635.7,308.6 1634.5,312Z" fill="#fff" stroke-width="3"/>
<path d="M1677.3,300.6 1679.4,297.6 1651.1,280.6 1649,283.6Z" fill="#fff" stroke-width="3"/>
<path d="M1689.7,285.7 1689.9,273.7 1661.6,256.7 1661.4,268.7Z" fill="#fff" stroke-width="3"/>
<path d="M1669,314.4 1670.7,311.1 1642.4,294.1 1640.7,297.4Z" fill="#fff" stroke-width="3"/>
<path d="M1652.3,334.2 1662.8,329 1634.5,312 1624,317.2Z" fill="#fff" stroke-width="3"/>
<path d="M1679.9,283.9 1687.2,288.2 1658.9,271.2 1651.6,266.9Z" fill="#fff" stroke-width="3"/>
<path d="M1689.9,273.7 1693,270.9 1664.7,253.9 1661.6,256.7Z" fill="#fff" stroke-width="3"/>
<path d="M1664,325.6 1657.2,320.6 1628.9,303.6 1635.7,308.6Z" fill="#fff" stroke-width="3"/>
<path d="M1679.4,297.6 1677.1,287.3 1648.8,270.3 1651.1,280.6Z" fill="#fff" stroke-width="3"/>
<path d="M1651.2,338.3 1652.3,334.2 1624,317.2 1622.9,321.3Z" fill="#fff" stroke-width="3"/>
<path d="M1658.9,316.5 1669,314.4 1640.7,297.4 1630.7,299.5Z" fill="#fff" stroke-width="3"/>
<path d="M1668.3,299.4 1677.3,300.6 1649,283.6 1640,282.4Z" fill="#fff" stroke-width="3"/>
<path d="M1670.7,311.1 1665.9,303.2 1637.7,286.2 1642.4,294.1Z" fill="#fff" stroke-width="3"/>
<path d="M1677.1,287.3 1679.9,283.9 1651.6,266.9 1648.8,270.3Z" fill="#fff" stroke-width="3"/>
<path d="M1657.2,320.6 1658.9,316.5 1630.7,299.5 1628.9,303.6Z" fill="#fff" stroke-width="3"/>
<path d="M1665.9,303.2 1668.3,299.4 1640,282.4 1637.7,286.2Z" fill="#fff" stroke-width="3"/>
<path d="M1742.2,270.7 1752.1,260.9 1754,262.7 1747.3,275.9 1748.6,277.8 1759.1,270.4 1760.3,273.1 1751.9,285.2 1752.5,287.7 1763,283.3 1763.4,286.6 1753.7,297 1753.8,300 1763.6,298.7 1763.2,302.5 1752.8,310.5 1752.2,313.8 1760.8,315.7 1759.7,319.8 1749.2,325 1748,328.4 1754.8,333.4 1753.1,337.5 1743,339.6 1741.3,342.9 1746.1,350.8 1743.7,354.6 1734.7,353.4 1732.6,356.4 1734.9,366.7 1732.1,370.1 1724.8,365.8 1722.3,368.3 1722.1,380.3 1719,383.1 1713.7,375.8 1711.1,377.8 1708.4,390.9 1705.2,392.8 1702.2,383.1 1699.6,384.3 1694.5,397.7 1691.4,398.7 1690.9,387 1688.4,387.5 1681.3,400.4 1678.5,400.4 1680.5,387.5 1678.3,387.1 1669.5,398.9 1667.1,397.9 1671.6,384.5 1669.8,383.3 1659.9,393.1 1658,391.3 1664.7,378.1 1663.4,376.2 1652.9,383.6 1651.7,380.9 1660.1,368.8 1659.5,366.3 1649,370.7 1648.6,367.4 1658.3,357 1658.2,354 1648.4,355.3 1648.8,351.5 1659.2,343.5 1659.8,340.2 1651.2,338.3 1652.3,334.2 1662.8,329 1664,325.6 1657.2,320.6 1658.9,316.5 1669,314.4 1670.7,311.1 1665.9,303.2 1668.3,299.4 1677.3,300.6 1679.4,297.6 1677.1,287.3 1679.9,283.9 1687.2,288.2 1689.7,285.7 1689.9,273.7 1693,270.9 1698.3,278.2 1700.9,276.2 1703.6,263.1 1706.8,261.2 1709.8,270.9 1712.4,269.7 1717.5,256.3 1720.6,255.3 1721.1,267 1723.6,266.5 1730.7,253.6 1733.5,253.6 1731.5,266.5 1733.7,266.9 1742.5,255.1 1744.9,256.1 1740.4,269.5Z" fill="#fff" stroke-width="3"/>
<ellipse cx="1706" cy="327" rx="17.2" ry="30" transform="rotate(31 1706 327)" fill="none" stroke-width="3"/>
<path d="M1719.9,303.9A15.5 27 31 0 0 1692.1,350.1L1695.5,352.2A15.5 27 31 0 0 1723.3,305.9Z" fill="#fff" stroke-width="3"/>
<ellipse cx="1709.4" cy="329.1" rx="15.5" ry="27" transform="rotate(31 1709.4 329.1)" fill="#fff" stroke-width="3"/>
<path d="M1719.7,311.9A11.5 20 31 0 0 1699.1,346.2L1720.6,359.1A11.5 20 31 0 0 1741.2,324.8Z" fill="#fff" stroke-width="3"/>
<ellipse cx="1730.9" cy="341.9" rx="11.5" ry="20" transform="rotate(31 1730.9 341.9)" fill="#fff" stroke-width="3"/>
<ellipse cx="1730.9" cy="341.9" rx="8.6" ry="15" transform="rotate(31 1730.9 341.9)" fill="#fff" stroke-width="2.2"/>
<ellipse cx="1730.9" cy="341.9" rx="4.6" ry="8" transform="rotate(31 1730.9 341.9)" fill="#fff" stroke-width="3"/>
<path d="M1391.1,770.3 1385.1,764 1349.1,742.3 1355.1,748.7Z" fill="#fff" stroke-width="3"/>
<path d="M1412.1,716.6 1421,717.9 1385,696.2 1376.1,695Z" fill="#fff" stroke-width="3"/>
<path d="M1377.4,780.9 1374.3,771.3 1338.3,749.7 1341.4,759.2Z" fill="#fff" stroke-width="3"/>
<path d="M1412.7,704 1422.8,701.3 1386.8,679.7 1376.7,682.4Z" fill="#fff" stroke-width="3"/>
<path d="M1363.7,786.8 1363.7,774.9 1327.7,753.3 1327.7,765.2Z" fill="#fff" stroke-width="3"/>
<path d="M1410.1,693.7 1420.6,687.2 1384.6,665.6 1374.1,672Z" fill="#fff" stroke-width="3"/>
<path d="M1351.2,787.6 1354.2,774.5 1318.2,752.8 1315.2,766Z" fill="#fff" stroke-width="3"/>
<path d="M1404.5,686.4 1414.4,676.8 1378.4,655.2 1368.5,664.8Z" fill="#fff" stroke-width="3"/>
<path d="M1343,784.7 1340.9,783.2 1304.9,761.6 1307,763.1Z" fill="#fff" stroke-width="3"/>
<path d="M1340.9,783.2 1346.8,770 1310.8,748.3 1304.9,761.6Z" fill="#fff" stroke-width="3"/>
<path d="M1404.9,671 1407.3,671.9 1371.3,650.3 1368.9,649.4Z" fill="#fff" stroke-width="3"/>
<path d="M1346.8,770 1345.4,768.4 1309.4,746.7 1310.8,748.3Z" fill="#fff" stroke-width="3"/>
<path d="M1396.4,683 1404.9,671 1368.9,649.4 1360.4,661.4Z" fill="#fff" stroke-width="3"/>
<path d="M1394.2,682.8 1396.4,683 1360.4,661.4 1358.2,661.1Z" fill="#fff" stroke-width="3"/>
<path d="M1335,776.5 1333.7,774 1297.7,752.4 1299,754.9Z" fill="#fff" stroke-width="3"/>
<path d="M1333.7,774 1341.9,761.8 1305.9,740.2 1297.7,752.4Z" fill="#fff" stroke-width="3"/>
<path d="M1341.9,761.8 1341.2,759.5 1305.2,737.8 1305.9,740.2Z" fill="#fff" stroke-width="3"/>
<path d="M1392.8,670.4 1395.7,670.1 1359.7,648.5 1356.8,648.8Z" fill="#fff" stroke-width="3"/>
<path d="M1386.5,683.6 1392.8,670.4 1356.8,648.8 1350.5,662Z" fill="#fff" stroke-width="3"/>
<path d="M1384.1,684.4 1386.5,683.6 1350.5,662 1348.1,662.7Z" fill="#fff" stroke-width="3"/>
<path d="M1340.1,750.7 1340.2,747.9 1304.2,726.2 1304.1,729.1Z" fill="#fff" stroke-width="3"/>
<path d="M1330.4,760.8 1340.1,750.7 1304.1,729.1 1294.4,739.2Z" fill="#fff" stroke-width="3"/>
<path d="M1330.8,764.1 1330.4,760.8 1294.4,739.2 1294.8,742.5Z" fill="#fff" stroke-width="3"/>
<path d="M1373.3,689.9 1375.8,688.3 1339.8,666.7 1337.3,668.3Z" fill="#fff" stroke-width="3"/>
<path d="M1375.8,688.3 1379.3,675 1343.3,653.4 1339.8,666.7Z" fill="#fff" stroke-width="3"/>
<path d="M1379.3,675 1382.5,673.5 1346.5,651.9 1343.3,653.4Z" fill="#fff" stroke-width="3"/>
<path d="M1341.6,737.7 1342.4,734.6 1306.4,713 1305.6,716.1Z" fill="#fff" stroke-width="3"/>
<path d="M1362.7,698.9 1365.1,696.6 1329.1,675 1326.7,677.3Z" fill="#fff" stroke-width="3"/>
<path d="M1331.1,744.8 1341.6,737.7 1305.6,716.1 1295.1,723.1Z" fill="#fff" stroke-width="3"/>
<path d="M1346.2,724 1347.6,720.8 1311.6,699.2 1310.2,702.3Z" fill="#fff" stroke-width="3"/>
<path d="M1353.4,710.6 1355.4,707.8 1319.4,686.1 1317.4,689Z" fill="#fff" stroke-width="3"/>
<path d="M1365.1,696.6 1365.5,684.4 1329.5,662.8 1329.1,675Z" fill="#fff" stroke-width="3"/>
<path d="M1330.6,748.6 1331.1,744.8 1295.1,723.1 1294.6,727Z" fill="#fff" stroke-width="3"/>
<path d="M1365.5,684.4 1368.7,681.9 1332.7,660.3 1329.5,662.8Z" fill="#fff" stroke-width="3"/>
<path d="M1335.9,727.3 1346.2,724 1310.2,702.3 1299.9,705.7Z" fill="#fff" stroke-width="3"/>
<path d="M1355.4,707.8 1352.8,697.8 1316.8,676.2 1319.4,686.1Z" fill="#fff" stroke-width="3"/>
<path d="M1347.6,720.8 1342.1,713.9 1306.1,692.3 1311.6,699.2Z" fill="#fff" stroke-width="3"/>
<path d="M1344.3,710 1353.4,710.6 1317.4,689 1308.3,688.4Z" fill="#fff" stroke-width="3"/>
<path d="M1334.5,731.4 1335.9,727.3 1299.9,705.7 1298.5,709.7Z" fill="#fff" stroke-width="3"/>
<path d="M1352.8,697.8 1355.5,694.4 1319.5,672.8 1316.8,676.2Z" fill="#fff" stroke-width="3"/>
<path d="M1342.1,713.9 1344.3,710 1308.3,688.4 1306.1,692.3Z" fill="#fff" stroke-width="3"/>
<path d="M1404.5,686.4 1414.4,676.8 1416.1,678.8 1409,691.7 1410.1,693.7 1420.6,687.2 1421.5,690.2 1412.4,701.4 1412.7,704 1422.8,701.3 1422.8,704.9 1412.5,713.6 1412.1,716.6 1421,717.9 1420,721.9 1409.5,727.1 1408.3,730.3 1415.2,735.4 1413.3,739.4 1403.5,740.8 1401.8,743.9 1405.9,752.4 1403.4,756.1 1395.1,753.5 1392.9,756.1 1394,767.3 1391.1,770.3 1385.1,764 1382.7,766 1380.6,778.8 1377.4,780.9 1374.3,771.3 1371.8,772.5 1366.8,785.9 1363.7,786.8 1363.7,774.9 1361.4,775.2 1353.9,787.9 1351.2,787.6 1354.2,774.5 1352.3,773.8 1343,784.7 1340.9,783.2 1346.8,770 1345.4,768.4 1335,776.5 1333.7,774 1341.9,761.8 1341.2,759.5 1330.8,764.1 1330.4,760.8 1340.1,750.7 1340.2,747.9 1330.6,748.6 1331.1,744.8 1341.6,737.7 1342.4,734.6 1334.5,731.4 1335.9,727.3 1346.2,724 1347.6,720.8 1342.1,713.9 1344.3,710 1353.4,710.6 1355.4,707.8 1352.8,697.8 1355.5,694.4 1362.7,698.9 1365.1,696.6 1365.5,684.4 1368.7,681.9 1373.3,689.9 1375.8,688.3 1379.3,675 1382.5,673.5 1384.1,684.4 1386.5,683.6 1392.8,670.4 1395.7,670.1 1394.2,682.8 1396.4,683 1404.9,671 1407.3,671.9 1402.8,685.3Z" fill="#fff" stroke-width="3"/>
<ellipse cx="1376.5" cy="729" rx="19" ry="33" transform="rotate(31 1376.5 729)" fill="#fff" stroke-width="3"/>
<path d="M1397.1,704.2 1392.1,701.2" stroke-width="2.2"/>
<path d="M1400,713.6 1382.5,703.1" stroke-width="2.2"/>
<path d="M1398.4,725.9 1372.7,710.5" stroke-width="2.2"/>
<path d="M1392.8,738.8 1367,723.3" stroke-width="2.2"/>
<path d="M1384.1,749.8 1358.3,734.4" stroke-width="2.2"/>
<path d="M1373.9,757 1356.5,746.4" stroke-width="2.2"/>
<path d="M1364.3,758.9 1359.3,755.9" stroke-width="2.2"/>
<path d="M1373.9,704.9A19 33 31 0 1 1354,738" fill="none" stroke-width="2.2"/>
<path d="M1079.7,245.2A12.6 22 29.6 0 0 1057.9,283.4L1110.1,313.1A12.6 22 29.6 0 0 1131.8,274.8Z" fill="#fff" stroke-width="3"/>
<ellipse cx="1121" cy="293.9" rx="12.6" ry="22" transform="rotate(29.6 1121 293.9)" fill="#fff" stroke-width="3"/>
<path d="M1129.4,279.2A9.8 17 29.6 0 0 1112.6,308.7L1123,314.6A9.8 17 29.6 0 0 1139.8,285.1Z" fill="#fff" stroke-width="3"/>
<path d="M1142.3,280.7A12.6 22 29.6 0 0 1120.5,319L1185.7,356A12.6 22 29.6 0 0 1207.5,317.8Z" fill="#fff" stroke-width="3"/>
<ellipse cx="1196.6" cy="336.9" rx="12.6" ry="22" transform="rotate(29.6 1196.6 336.9)" fill="#fff" stroke-width="3"/>
<path d="M1205,322.1A9.8 17 29.6 0 0 1188.2,351.7L1198.7,357.6A9.8 17 29.6 0 0 1215.4,328.1Z" fill="#fff" stroke-width="3"/>
<path d="M1217.9,323.7A12.6 22 29.6 0 0 1196.2,362L1244,389.1A12.6 22 29.6 0 0 1265.7,350.9Z" fill="#fff" stroke-width="3"/>
<ellipse cx="1254.9" cy="370" rx="12.6" ry="22" transform="rotate(29.6 1254.9 370)" fill="#fff" stroke-width="3"/>
<ellipse cx="1254.9" cy="370" rx="6.3" ry="11" transform="rotate(29.6 1254.9 370)" fill="#fff" stroke-width="3"/>
<path d="M1257.1,360.4A6.3 11 29.6 0 1 1247.7,376.9" fill="none" stroke-width="2.2"/>
<path d="M246.9,631.5A14.9 26 29 0 0 221.7,676.9L258.4,697.3A14.9 26 29 0 0 283.6,651.8Z" fill="#fff" stroke-width="3"/>
<path d="M518.7,795.1 522,796.2 290.3,667.7 286.9,666.6Z" fill="#fff" stroke-width="3"/>
<path d="M506.1,823.9 503.6,821.4 271.8,692.9 274.4,695.4Z" fill="#fff" stroke-width="3"/>
<path d="M515.5,781.3 519.7,778.2 287.9,649.7 283.7,652.9Z" fill="#fff" stroke-width="3"/>
<path d="M489.8,830.4 490.4,825.1 258.6,696.6 258,701.9Z" fill="#fff" stroke-width="3"/>
<path d="M490.4,825.1 486.7,822.8 254.9,694.3 258.6,696.6Z" fill="#fff" stroke-width="3"/>
<path d="M506.4,774.2 512.4,773.7 280.6,645.3 274.7,645.7Z" fill="#fff" stroke-width="3"/>
<path d="M482.4,825.9 480,820.3 248.2,691.8 250.7,697.4Z" fill="#fff" stroke-width="3"/>
<path d="M503.8,779.7 506.4,774.2 274.7,645.7 272.1,651.2Z" fill="#fff" stroke-width="3"/>
<path d="M480,820.3 483.4,815.3 251.7,686.8 248.2,691.8Z" fill="#fff" stroke-width="3"/>
<path d="M498.5,782.8 503.8,779.7 272.1,651.2 266.8,654.3Z" fill="#fff" stroke-width="3"/>
<path d="M483.4,815.3 483.5,809 251.7,680.6 251.7,686.8Z" fill="#fff" stroke-width="3"/>
<path d="M486.8,797.8 490.6,791.2 258.8,662.7 255,669.3Z" fill="#fff" stroke-width="3"/>
<path d="M490.6,791.2 490,786.5 258.2,658.1 258.8,662.7Z" fill="#fff" stroke-width="3"/>
<path d="M482.6,799.5 486.8,797.8 255,669.3 250.8,671Z" fill="#fff" stroke-width="3"/>
<path d="M490,786.5 496,780.2 264.2,651.7 258.2,658.1Z" fill="#fff" stroke-width="3"/>
<path d="M480.1,807.9 482.6,799.5 250.8,671 248.3,679.5Z" fill="#fff" stroke-width="3"/>
<path d="M515.5,781.3 519.7,778.2 522.1,783.8 518.7,788.8 518.7,795.1 522,796.2 519.5,804.6 515.3,806.4 511.5,812.9 512.1,817.6 506.1,823.9 503.6,821.4 498.3,824.4 495.7,829.9 489.8,830.4 490.4,825.1 486.7,822.8 482.4,825.9 480,820.3 483.4,815.3 483.5,809 480.1,807.9 482.6,799.5 486.8,797.8 490.6,791.2 490,786.5 496,780.2 498.5,782.8 503.8,779.7 506.4,774.2 512.4,773.7 511.7,779.1Z" fill="#fff" stroke-width="3"/>
<path d="M513.2,780.2A14.4 25 29 0 0 488.9,823.9L512.6,837A14.4 25 29 0 0 536.8,793.3Z" fill="#fff" stroke-width="3"/>
<ellipse cx="524.7" cy="815.2" rx="14.4" ry="25" transform="rotate(29 524.7 815.2)" fill="#fff" stroke-width="3"/>
<ellipse cx="524.7" cy="815.2" rx="10.9" ry="19" transform="rotate(29 524.7 815.2)" fill="#fff" stroke-width="2.2"/>
<ellipse cx="524.7" cy="815.2" rx="6.9" ry="12" transform="rotate(29 524.7 815.2)" fill="#fff" stroke-width="3"/>
<path d="M527.4,804.5A6.9 12 29 0 1 517.1,823.1" fill="none" stroke-width="2.2"/>
<path d="M546.5,206.2A19.5 34 31 0 0 511.5,264.5L533.8,277.8A19.5 34 31 0 0 568.8,219.6Z" fill="#fff" stroke-width="3"/>
<path d="M571.4,215.3A22.4 39 31 0 0 531.2,282.1L539.8,287.3A22.4 39 31 0 0 580,220.4Z" fill="#fff" stroke-width="3"/>
<path d="M531.2,282.1A22.4 39 31 0 1 571.4,215.3" fill="none" stroke-width="3"/>
<path d="M579.2,221.7A21.6 37.5 31 0 0 540.6,286L566.3,301.4A21.6 37.5 31 0 0 604.9,237.2Z" fill="#fff" stroke-width="3"/>
<ellipse cx="585.6" cy="269.3" rx="21.6" ry="37.5" transform="rotate(31 585.6 269.3)" fill="#fff" stroke-width="3"/>
<ellipse cx="585.6" cy="269.3" rx="19.5" ry="34" transform="rotate(31 585.6 269.3)" fill="#fff" stroke-width="2.2"/>
<ellipse cx="585.6" cy="269.3" rx="17.2" ry="30" transform="rotate(31 585.6 269.3)" fill="#fff" stroke-width="3"/>
<circle cx="514.5" cy="259.1" r="3.2" fill="#fff" stroke-width="2"/>
<circle cx="534.8" cy="216" r="3.2" fill="#fff" stroke-width="2"/>
<circle cx="546.3" cy="281.5" r="3.2" fill="#fff" stroke-width="2"/>
<circle cx="568.7" cy="234" r="3.2" fill="#fff" stroke-width="2"/>
<circle cx="601.2" cy="262.2" r="3.2" fill="#fff" stroke-width="2"/>
<circle cx="578.7" cy="289.2" r="3.2" fill="#fff" stroke-width="2"/>
<path d="M329.1,390.1A22.1 38.5 31 0 0 289.4,456.1L312.6,470A22.1 38.5 31 0 0 352.2,404Z" fill="#fff" stroke-width="3"/>
<ellipse cx="332.4" cy="437" rx="22.1" ry="38.5" transform="rotate(31 332.4 437)" fill="#fff" stroke-width="3"/>
<ellipse cx="332.4" cy="437" rx="18.7" ry="32.5" transform="rotate(31 332.4 437)" fill="#fff" stroke-width="2.2"/>
<ellipse cx="331.5" cy="436.5" rx="16.4" ry="28.5" transform="rotate(31 331.5 436.5)" fill="#fff" stroke-width="3.4"/>
<path d="M344.3,411.5A16.4 28.5 31 0 1 315.5,459.5" fill="none" stroke-width="2.2"/>
<path d="M341.5,411.2A16.4 28.5 31 0 1 313.9,457.2" fill="none" stroke-width="2.2"/>
<path d="M338.4,411.6A16.4 28.5 31 0 1 312.7,454.2" fill="none" stroke-width="2.2"/>
<path d="M334.7,412.7A16.4 28.5 31 0 1 312,450.4" fill="none" stroke-width="2.2"/>
<ellipse cx="321.5" cy="401.5" rx="4.5" ry="2.6" fill="#fff" stroke-width="2.4"/>
<path d="M841.6,700.3C843.6,697.6 841.4,697 844.7,694.8C848,692.7 849.1,692.2 854.1,692.2C859.1,692.2 854.7,691 863.4,694.8C872.2,698.7 874,699.7 886.9,706.6C899.8,713.4 901.9,714.8 911.9,720.6C921.9,726.5 918.5,724.7 924.4,728.4C930.2,732.2 930.2,730.9 933.8,734.7C937.3,738.4 937.4,738.3 937.7,742.5C937.9,746.7 934.5,745.7 934.5,750.3C934.5,754.9 937,754.7 937.7,759.7C938.3,764.7 938.8,764.5 936.9,769.1C935,773.6 932.7,771.9 930.6,776.9C928.5,781.9 931.6,782.4 929.1,787.8C926.6,793.2 925.4,793 921.2,797.2C917.1,801.4 917.6,801.4 913.4,803.4C909.3,805.5 909.4,802.1 905.6,805C901.9,807.9 903.5,811.5 899.4,814.4C895.2,817.3 895,816.4 890,815.9C885,815.5 884.2,815.7 880.6,812.8C877.1,809.9 880.9,808.3 876.7,805C872.6,801.7 875.6,805.3 865,800.3C854.4,795.3 849.4,792.5 836.9,786.2C824.4,780 825.6,780.6 818.1,776.9C810.6,773.1 812.5,775.5 808.8,772.2C805,768.9 805.1,769 804.1,764.4C803,759.8 803.2,759.2 804.8,755C806.5,750.8 809.7,752.9 810.3,748.8C810.9,744.6 807.6,744.4 807.2,739.4C806.8,734.4 806.2,733.8 808.8,730C811.2,726.2 812.8,727.8 816.6,725.3C820.3,722.8 821.1,724.4 822.8,720.6C824.5,716.9 821.1,715.4 822.8,711.2C824.5,707.1 825.3,706.7 829.1,705C832.8,703.3 833.5,706.2 836.9,705C840.2,703.8 839.5,703 841.6,700.3Z" fill="#fff" stroke-width="3"/>
<path d="M852.5,697.2 905.6,726.9" fill="#fff" stroke-width="2.2"/>
<path d="M849.4,703.4 902.5,732.3" fill="#fff" stroke-width="2.2"/>
<path d="M836.9,711.2 886.9,739.4" fill="#fff" stroke-width="2.2"/>
<path d="M832.2,718.3 882.2,747.2" fill="#fff" stroke-width="2.2"/>
<path d="M823.6,733.9 874.4,760.5" fill="#fff" stroke-width="2.2"/>
<path d="M819.7,742.5 868.9,769.1" fill="#fff" stroke-width="2.2"/>
<path d="M816.6,762.8 865,789.4" fill="#fff" stroke-width="2.2"/>
<path d="M815,772.2 863.1,798" fill="#fff" stroke-width="2.2"/>
<path d="M849.4,695.6C850.8,695 857.8,696.5 858.8,697.5C859.7,698.5 857.8,702.9 856.4,703.4C855,704 849.1,702.9 848.1,701.9C847.2,700.8 848,696.2 849.4,695.6Z" fill="#fff" stroke-width="2.2"/>
<path d="M903.3,726.9C905.1,726.5 913.8,728.8 915,729.7C916.2,730.6 914.4,733.6 912.7,733.9C910.9,734.3 903,733.3 901.7,732.3C900.5,731.4 901.5,727.2 903.3,726.9Z" fill="#fff" stroke-width="2.2"/>
<path d="M826.7,707.3C828.2,706.5 835.3,708.2 836.1,709.7C836.9,711.1 834.4,717.4 833,718.3C831.5,719.1 826,717.4 825.2,715.9C824.3,714.5 825.3,708.2 826.7,707.3Z" fill="#fff" stroke-width="2.2"/>
<path d="M883,740.2C884.8,739.7 893.9,742.8 895,744.1C896.1,745.3 893.4,749.1 891.6,749.5C889.8,749.9 882.6,748.4 881.4,747.2C880.3,745.9 881.2,740.6 883,740.2Z" fill="#fff" stroke-width="2.2"/>
<path d="M809.5,729.2C811.5,728.4 821.5,730.7 822.8,732.3C824.2,734 821.7,740.9 819.7,741.7C817.7,742.6 809.3,740.3 808,738.6C806.6,736.9 807.6,730.1 809.5,729.2Z" fill="#fff" stroke-width="2.2"/>
<path d="M867.3,760.5C868.8,759.7 876.5,762.6 877.5,764.4C878.5,766.1 876.6,773 875.2,773.8C873.7,774.5 867.6,771.6 866.6,769.8C865.5,768.1 865.9,761.2 867.3,760.5Z" fill="#fff" stroke-width="2.2"/>
<path d="M807.2,758.9C808.5,757.9 815.4,759.5 816.6,761.2C817.7,763 817.1,771.1 815.8,772.2C814.4,773.2 807.6,770.8 806.4,769.1C805.3,767.3 805.8,759.9 807.2,758.9Z" fill="#fff" stroke-width="2.2"/>
<path d="M863.4,787.8C864.4,786.6 870.3,788.1 871.2,790.2C872.2,792.2 871.4,802.2 870.5,803.4C869.5,804.7 865.2,801.6 864.2,799.5C863.3,797.4 862.5,789.1 863.4,787.8Z" fill="#fff" stroke-width="2.2"/>
<path d="M891.6,748.8C890.3,750.3 885.3,755 883.8,758.1C882.2,761.2 883.2,764.9 882.2,767.5C881.1,770.1 878,771.1 877.5,773.8C877,776.4 879.6,780 879.1,783.1C878.5,786.2 874.6,789.1 874.4,792.5C874.1,795.9 877,801.6 877.5,803.4" fill="none" stroke-width="2.2"/>
<path d="M885.3,780C886.2,773 883.6,772.8 886.9,764.4C890.2,755.9 888.8,757.5 896.2,751.9C903.8,746.2 903.4,746.1 911.9,745.6C920.3,745.2 919.5,745.2 924.4,750.3C929.3,755.5 928.3,754.4 928.3,762.8C928.3,771.2 928.8,769.5 924.4,778.4C919.9,787.3 920.9,785.5 913.4,792.5C905.9,799.5 906.9,800 899.4,801.9C891.9,803.8 893.1,803 888.4,798.8C883.8,794.5 884.7,793.4 883.8,787.8C882.8,782.2 884.4,787 885.3,780Z" fill="#fff" stroke-width="3"/>
<path d="M890,781.6C890.3,779.3 890,772.3 891.6,768.3C893.1,764.2 896,760.2 899.4,757.3C902.8,754.5 909.8,752.1 911.9,751.1" fill="none" stroke-width="2.2"/>
<path d="M899.4,755 922.8,762" fill="#fff" stroke-width="2.2"/>
<path d="M894.7,762.8 922.8,771.4" fill="#fff" stroke-width="2.2"/>
<path d="M890,772.2 918.1,781.6" fill="#fff" stroke-width="2.2"/>
<path d="M887.7,781.6 908.8,790.2" fill="#fff" stroke-width="2.2"/>
<path d="M886.9,790.9 899.4,797.2" fill="#fff" stroke-width="2.2"/>
<path d="M922.8,762C923.1,763.5 925.2,767.4 924.4,770.6C923.6,773.9 920.7,778.3 918.1,781.6C915.5,784.8 911.9,787.6 908.8,790.2C905.6,792.8 902.5,796.1 899.4,797.2C896.2,798.2 891.6,796.5 890,796.4" fill="none" stroke-width="2.2"/>
<path d="M1075.1,521.6C1077.1,518.9 1074.9,518.3 1078.2,516.1C1081.5,513.9 1082.6,513.4 1087.6,513.4C1092.6,513.4 1088.2,512.3 1096.9,516.1C1105.7,519.9 1107.5,520.9 1120.4,527.8C1133.3,534.7 1135.4,536 1145.4,541.9C1155.4,547.7 1152,545.9 1157.9,549.7C1163.7,553.4 1163.7,552.2 1167.2,555.9C1170.8,559.7 1170.9,559.6 1171.2,563.8C1171.4,567.9 1168,567 1168,571.6C1168,576.1 1170.5,575.9 1171.2,580.9C1171.8,585.9 1172.2,585.7 1170.4,590.3C1168.5,594.9 1166.2,593.1 1164.1,598.1C1162,603.1 1165.1,603.6 1162.6,609.1C1160.1,614.5 1158.9,614.3 1154.8,618.4C1150.6,622.6 1151.1,622.6 1146.9,624.7C1142.8,626.8 1142.9,623.3 1139.1,626.2C1135.4,629.2 1137,632.7 1132.9,635.6C1128.7,638.5 1128.5,637.6 1123.5,637.2C1118.5,636.8 1117.7,637 1114.1,634.1C1110.6,631.1 1114.4,629.6 1110.2,626.2C1106.1,622.9 1109.1,626.6 1098.5,621.6C1087.9,616.6 1082.9,613.8 1070.4,607.5C1057.9,601.2 1059.1,601.9 1051.6,598.1C1044.1,594.4 1046,596.8 1042.2,593.4C1038.5,590.1 1038.6,590.2 1037.6,585.6C1036.5,581 1036.7,580.4 1038.3,576.2C1040,572.1 1043.2,574.2 1043.8,570C1044.4,565.8 1041.1,565.6 1040.7,560.6C1040.3,555.6 1039.8,555 1042.2,551.2C1044.8,547.5 1046.3,549.1 1050.1,546.6C1053.8,544.1 1054.6,545.6 1056.3,541.9C1058,538.1 1054.6,536.7 1056.3,532.5C1058,528.3 1058.8,527.9 1062.6,526.2C1066.3,524.6 1067,527.5 1070.4,526.2C1073.7,525 1073,524.3 1075.1,521.6Z" fill="#fff" stroke-width="3"/>
<path d="M1086,518.4 1139.1,548.1" fill="#fff" stroke-width="2.2"/>
<path d="M1082.9,524.7 1136,553.6" fill="#fff" stroke-width="2.2"/>
<path d="M1070.4,532.5 1120.4,560.6" fill="#fff" stroke-width="2.2"/>
<path d="M1065.7,539.5 1115.7,568.4" fill="#fff" stroke-width="2.2"/>
<path d="M1057.1,555.2 1107.9,581.7" fill="#fff" stroke-width="2.2"/>
<path d="M1053.2,563.8 1102.4,590.3" fill="#fff" stroke-width="2.2"/>
<path d="M1050.1,584.1 1098.5,610.6" fill="#fff" stroke-width="2.2"/>
<path d="M1048.5,593.4 1096.6,619.2" fill="#fff" stroke-width="2.2"/>
<path d="M1082.9,516.9C1084.3,516.3 1091.3,517.7 1092.2,518.8C1093.2,519.8 1091.3,524.1 1089.9,524.7C1088.5,525.3 1082.6,524.2 1081.6,523.1C1080.7,522.1 1081.5,517.5 1082.9,516.9Z" fill="#fff" stroke-width="2.2"/>
<path d="M1136.8,548.1C1138.6,547.8 1147.2,550 1148.5,550.9C1149.8,551.9 1147.9,554.8 1146.2,555.2C1144.4,555.5 1136.5,554.5 1135.2,553.6C1134,552.7 1135,548.5 1136.8,548.1Z" fill="#fff" stroke-width="2.2"/>
<path d="M1060.2,528.6C1061.7,527.8 1068.8,529.5 1069.6,530.9C1070.4,532.4 1067.9,538.7 1066.5,539.5C1065,540.4 1059.5,538.6 1058.7,537.2C1057.8,535.7 1058.8,529.4 1060.2,528.6Z" fill="#fff" stroke-width="2.2"/>
<path d="M1116.5,561.4C1118.3,561 1127.4,564.1 1128.5,565.3C1129.6,566.6 1126.9,570.4 1125.1,570.8C1123.2,571.2 1116.1,569.7 1114.9,568.4C1113.8,567.2 1114.7,561.8 1116.5,561.4Z" fill="#fff" stroke-width="2.2"/>
<path d="M1043,550.5C1045,549.6 1055,551.9 1056.3,553.6C1057.7,555.3 1055.2,562.1 1053.2,563C1051.2,563.8 1042.8,561.5 1041.5,559.8C1040.1,558.2 1041.1,551.3 1043,550.5Z" fill="#fff" stroke-width="2.2"/>
<path d="M1100.8,581.7C1102.3,581 1110,583.9 1111,585.6C1112,587.4 1110.1,594.3 1108.7,595C1107.2,595.7 1101.1,592.9 1100.1,591.1C1099,589.3 1099.4,582.4 1100.8,581.7Z" fill="#fff" stroke-width="2.2"/>
<path d="M1040.7,580.2C1042,579.1 1048.9,580.7 1050.1,582.5C1051.2,584.3 1050.6,592.4 1049.3,593.4C1047.9,594.5 1041.1,592.1 1039.9,590.3C1038.8,588.5 1039.3,581.2 1040.7,580.2Z" fill="#fff" stroke-width="2.2"/>
<path d="M1096.9,609.1C1097.9,607.8 1103.8,609.3 1104.8,611.4C1105.7,613.5 1104.9,623.4 1104,624.7C1103,625.9 1098.7,622.9 1097.7,620.8C1096.8,618.7 1096,610.3 1096.9,609.1Z" fill="#fff" stroke-width="2.2"/>
<path d="M1125.1,570C1123.8,571.6 1118.8,576.2 1117.2,579.4C1115.7,582.5 1116.7,586.1 1115.7,588.8C1114.6,591.4 1111.5,592.4 1111,595C1110.5,597.6 1113.1,601.2 1112.6,604.4C1112,607.5 1108.1,610.4 1107.9,613.8C1107.6,617.1 1110.5,622.9 1111,624.7" fill="none" stroke-width="2.2"/>
<path d="M1118.8,601.2C1119.8,594.2 1117.1,594.1 1120.4,585.6C1123.7,577.2 1122.2,578.8 1129.8,573.1C1137.2,567.5 1136.9,567.3 1145.4,566.9C1153.8,566.4 1153,566.4 1157.9,571.6C1162.8,576.7 1161.8,575.6 1161.8,584.1C1161.8,592.5 1162.3,590.8 1157.9,599.7C1153.4,608.6 1154.4,606.7 1146.9,613.8C1139.4,620.8 1140.4,621.2 1132.9,623.1C1125.4,625 1126.6,624.2 1121.9,620C1117.2,615.8 1118.2,614.7 1117.2,609.1C1116.3,603.4 1117.9,608.3 1118.8,601.2Z" fill="#fff" stroke-width="3"/>
<path d="M1123.5,602.8C1123.8,600.6 1123.5,593.6 1125.1,589.5C1126.6,585.5 1129.5,581.5 1132.9,578.6C1136.3,575.7 1143.3,573.4 1145.4,572.3" fill="none" stroke-width="2.2"/>
<path d="M1132.9,576.2 1156.3,583.3" fill="#fff" stroke-width="2.2"/>
<path d="M1128.2,584.1 1156.3,592.7" fill="#fff" stroke-width="2.2"/>
<path d="M1123.5,593.4 1151.6,602.8" fill="#fff" stroke-width="2.2"/>
<path d="M1121.2,602.8 1142.2,611.4" fill="#fff" stroke-width="2.2"/>
<path d="M1120.4,612.2 1132.9,618.4" fill="#fff" stroke-width="2.2"/>
<path d="M1156.3,583.3C1156.6,584.7 1158.7,588.6 1157.9,591.9C1157.1,595.1 1154.2,599.6 1151.6,602.8C1149,606.1 1145.4,608.8 1142.2,611.4C1139.1,614 1136,617.4 1132.9,618.4C1129.8,619.5 1125.1,617.8 1123.5,617.7" fill="none" stroke-width="2.2"/>
<path d="M770,372 765,377 746.7,376 739.8,381.7 729.5,384 727.2,404.7 737.5,409.3 737.5,420.7 744.4,425.3 753.6,429.9 759.3,436.8 758.2,448.3 765,458 790,440 790,380Z" fill="#fff" stroke-width="3"/>
<path d="M746.7,376 748,392" stroke-width="2.2"/>
<path d="M748,392 737.5,409.3" stroke-width="2.2"/>
<path d="M748,392 770,398" stroke-width="2.2"/>
<path d="M797,326 799,319 805,316 812,318 832,330 830,338 810,340Z" fill="#fff" stroke-width="3"/>
<path d="M812,318 809,327" stroke-width="2.2"/>
<path d="M809,327 797,326" stroke-width="2.2"/>
<path d="M809,327 830,338" stroke-width="2.2"/>
<path d="M838.4,339.5A39.1 68 31 0 0 768.3,456L816.3,484.9A39.1 68 31 0 0 886.4,368.3Z" fill="#fff" stroke-width="3"/>
<path d="M776,460.7A39.1 68 31 0 1 846.1,344.1" fill="none" stroke-width="3"/>
<path d="M783.7,465.3A39.1 68 31 0 1 853.8,348.7" fill="none" stroke-width="3"/>
<path d="M791.5,469.9A39.1 68 31 0 1 861.5,353.4" fill="none" stroke-width="3"/>
<path d="M799.2,474.6A39.1 68 31 0 1 869.2,358" fill="none" stroke-width="3"/>
<path d="M806,478.7A39.1 68 31 0 1 876.1,362.1" fill="none" stroke-width="3"/>
<path d="M811.2,481.8A39.1 68 31 0 1 881.2,365.2" fill="none" stroke-width="3"/>
<path d="M882.2,375.1A34.5 60 31 0 0 820.4,478L827.3,482.1A34.5 60 31 0 0 889.1,379.3Z" fill="#fff" stroke-width="3"/>
<ellipse cx="858.2" cy="430.7" rx="34.5" ry="60" transform="rotate(31 858.2 430.7)" fill="#fff" stroke-width="3"/>
<path d="M883.3,366.8A39.1 68 31 1 1 813.5,482.9" fill="none" stroke-width="3"/>
<ellipse cx="858.2" cy="430.7" rx="28.7" ry="50" transform="rotate(31 858.2 430.7)" fill="#fff" stroke-width="3"/>
<ellipse cx="855.6" cy="429.2" rx="25.9" ry="45" transform="rotate(31 855.6 429.2)" fill="#fff" stroke-width="2.2"/>
<path d="M883.8,395.3 875.1,391.3" stroke-width="2.2"/>
<path d="M887.6,408.2 860.4,394.5" stroke-width="2.2"/>
<path d="M885.5,424.9 850.3,405.7" stroke-width="2.2"/>
<path d="M877.8,442.5 843.3,421.7" stroke-width="2.2"/>
<path d="M865.9,457.5 832.4,435.4" stroke-width="2.2"/>
<path d="M852.1,467.3 827.3,449.6" stroke-width="2.2"/>
<path d="M839,469.9 831.3,464.1" stroke-width="2.2"/>
<path d="M852.7,399.1A23.6 41 31 0 1 827.7,440.7" fill="none" stroke-width="2.2"/>
<path d="M558.8,495.6 562.9,492.9 573.3,493.5 581.7,497.7 615,517.5 648.3,540.4 656.7,542.5 666,548.8 669.2,557.1 665,563.3 656.7,562.3 654.6,567.5 656.7,584.2 652.5,605 644.2,625.8 645.2,638.3 640,652.9 631.7,661.2 621.2,662.3 615,657.1 608.8,663.3 598.3,661.2 581.7,657.1 558.8,650.8 542.1,642.5 531.7,634.2 525.4,625.8 521.2,615.4 515,613.3 512.9,602.9 503.5,596.7 502.5,584.2 495.2,577.9 498.3,561.2 510.8,558.1 521.2,551.9 531.7,538.3 552.5,519.6 562.9,511.2 560.8,502.9Z" fill="#fff" stroke-width="3"/>
<path d="M562.9,511.2 565,505 581.7,513.3 579.6,519.6 565,514.4" fill="none" stroke-width="2.2"/>
<path d="M560.8,502.9 565,505" fill="#fff" stroke-width="2.2"/>
<path d="M523.3,551.9C526.5,548.2 535.1,536.2 542.1,530C549,523.8 561.2,517 565,514.4" fill="none" stroke-width="2.2"/>
<path d="M533.8,560.2C536.9,556.6 545.9,545.1 552.5,538.3C559.1,531.6 568.8,522.7 573.3,519.6C577.8,516.5 578.5,519.6 579.6,519.6" fill="none" stroke-width="2.2"/>
<path d="M521.2,551.9 523.3,551.9 533.8,560.2" fill="#fff" stroke-width="2.2"/>
<path d="M531.7,634.2C531.3,630 527.8,621 529.6,609.2C531.3,597.4 536.5,575.1 542.1,563.3C547.6,551.5 555.3,545.6 562.9,538.3C570.6,531 579.6,523.1 587.9,519.6C596.2,516.1 608.8,517.8 612.9,517.5" fill="none" stroke-width="3"/>
<path d="M542.1,642.5C541.6,637.6 537.2,625.5 539,613.3C540.7,601.2 547.1,580.7 552.5,569.6C557.9,558.5 564.3,553.6 571.2,546.7C578.2,539.7 586.9,531.6 594.2,527.9C601.5,524.3 611.5,525.3 615,524.8" fill="none" stroke-width="3"/>
<path d="M560.8,577.9 608.8,530 625.4,540.4 623.3,546.7 612.9,540.4 571.2,582.1Z" fill="none" stroke-width="2.2"/>
<path d="M571.2,582.1 577.5,586.2 575.4,596.7 581.7,600.8 579.6,605" fill="#fff" stroke-width="2.2"/>
<path d="M579.6,638.3C577.8,633.5 575.8,625.1 577.5,615.4C579.2,605.7 583.1,590.8 590,580C596.9,569.2 610.8,555.3 619.2,550.8C627.5,546.3 634.1,549.4 640,552.9C645.9,556.4 652.2,565.1 654.6,571.7C657,578.3 656.3,584.2 654.6,592.5C652.8,600.8 649.4,613.7 644.2,621.7C639,629.7 630.3,636.3 623.3,640.4C616.4,644.6 608.4,646 602.5,646.7C596.6,647.4 591.7,646 587.9,644.6C584.1,643.2 581.3,643.2 579.6,638.3Z" fill="#fff" stroke-width="3"/>
<path d="M587.9,634.2C586,629.3 585.1,621.7 586.9,613.3C588.6,605 592.3,593.2 598.3,584.2C604.4,575.1 616.7,563 623.3,559.2C629.9,555.3 634.1,558.1 637.9,561.2C641.7,564.4 645.2,571.3 646.2,577.9C647.3,584.5 646.3,593.2 644.2,600.8C642.1,608.5 638.6,617.5 633.8,623.8C628.9,630 620.9,635.2 615,638.3C609.1,641.5 602.8,643.2 598.3,642.5C593.8,641.8 589.8,639 587.9,634.2Z" fill="#fff" stroke-width="2.2"/>
<path d="M612.9,571.7 633.8,584.2" fill="#fff" stroke-width="2.2"/>
<path d="M602.5,584.2 631.7,598.8" fill="#fff" stroke-width="2.2"/>
<path d="M596.2,598.8 625.4,613.3" fill="#fff" stroke-width="2.2"/>
<path d="M590,613.3 615,625.8" fill="#fff" stroke-width="2.2"/>
<path d="M587.9,625.8 602.5,634.2" fill="#fff" stroke-width="2.2"/>
<path d="M637.9,563.3C638.6,565.8 642.4,571 642.1,577.9C641.7,584.9 639,597.4 635.8,605C632.7,612.6 625.4,620.6 623.3,623.8" fill="none" stroke-width="2.2"/>
<path d="M644.2,548.8 648.3,542.5" fill="#fff" stroke-width="2.2"/>
<path d="M656.7,542.5C656.3,543.9 653.5,549.1 654.6,550.8C655.6,552.6 661.5,552.6 662.9,552.9" fill="none" stroke-width="2.2"/>
<path d="M615,657.1C616.4,654 619.9,642.2 623.3,638.3C626.8,634.5 632.2,634.2 635.8,634.2C639.5,634.2 643.6,637.6 645.2,638.3" fill="none" stroke-width="2.2"/>
<path d="M619.2,655 635.8,638.3" fill="#fff" stroke-width="2.2"/>
<path d="M548.3,625.8C549,627.9 550.1,634.9 552.5,638.3C554.9,641.8 558.4,644.2 562.9,646.7C567.4,649.1 576.8,651.9 579.6,652.9" fill="none" stroke-width="2.2"/>
<path d="M550.4,625.8C552.5,626.5 559.1,626.9 562.9,630C566.7,633.1 570.2,640.8 573.3,644.6C576.5,648.4 580.3,651.5 581.7,652.9" fill="none" stroke-width="2.2"/>
<path d="M565,623.8C566.4,624.1 570.9,623.4 573.3,625.8C575.8,628.3 577.8,633.8 579.6,638.3C581.3,642.8 583.1,650.5 583.8,652.9" fill="none" stroke-width="2.2"/>
<path d="M579.6,605C581,604.7 587.6,599.4 587.9,602.9C588.3,606.4 581.7,619.2 581.7,625.8C581.7,632.4 586.9,639.7 587.9,642.5" fill="none" stroke-width="2.2"/>
<clipPath id="wing"><polygon points="96,276 99,267 555,78.5 549,96 526,130 512,200 472,262 432,300 402,335 381,365 381,392 167,392 134,350 107,322 96,296"/></clipPath>
<g clip-path="url(#wing)" class="ns" fill="url(#dots)">
<polygon points="90,266.7 570,68.2 570,123.7 90,284.6"/>
<polygon points="90,288.2 570,127.3 570,177 90,301.8"/>
<polygon points="90,305.4 570,180.6 570,235.8 90,322.2"/>
<polygon points="90,325.8 570,239.4 570,294.7 90,342.7"/>
<polygon points="90,346.3 570,298.3 570,349.3 90,363.7"/>
<polygon points="90,367.3 570,352.9 570,398.2 90,398.2"/>
</g>
<g class="ns" fill="url(#dots)" fill-rule="evenodd">
<path d="M97,399H126V418H160V399H188V453H160V434H126V453H97Z"/>
<path d="M218,399H253Q275,399 275,421V431Q275,453 253,453H218Q196,453 196,431V421Q196,399 218,399ZM230,416Q224,416 224,422V430Q224,436 230,436H247Q253,436 253,430V422Q253,416 247,416Z"/>
<path d="M283,453V399H312L343,432V399H370V453H341L310,420V453Z"/>
<path d="M378,399H436Q460,399 460,421V431Q460,453 436,453H378ZM406,416V436H428Q434,436 434,430V422Q434,416 428,416Z"/>
<path d="M468,453L500,399H530L562,453H533L515,420L497,453Z"/>
</g>
</svg>
</body></html>
